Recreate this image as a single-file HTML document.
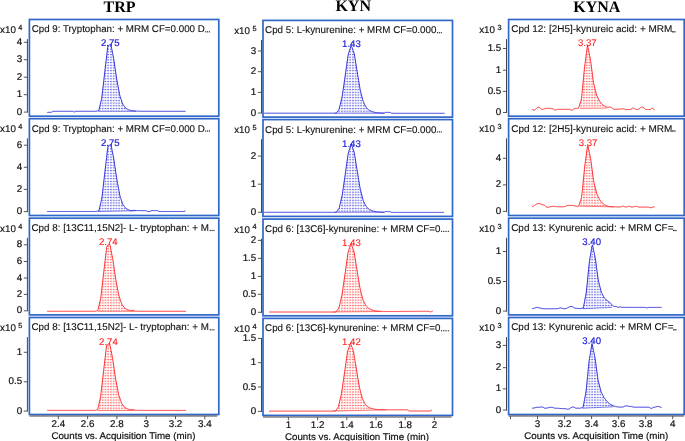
<!DOCTYPE html><html><head><meta charset="utf-8"><style>html,body{margin:0;padding:0;background:#fff;overflow:hidden}svg{display:block;will-change:transform;text-rendering:geometricPrecision}</style></head><body>
<svg width="685" height="441" viewBox="0 0 685 441">
<defs>
<pattern id="hb" patternUnits="userSpaceOnUse" width="2.75" height="2.7"><rect x="0" y="0" width="1.9" height="2.7" fill="#1c1cd8" fill-opacity="0.05"/><rect x="0" y="0" width="1.9" height="1.0" fill="#1c1cd8" fill-opacity="0.62"/></pattern>
<pattern id="hr" patternUnits="userSpaceOnUse" width="2.75" height="2.7"><rect x="0" y="0" width="1.9" height="2.7" fill="#ff1a1a" fill-opacity="0.05"/><rect x="0" y="0" width="1.9" height="1.0" fill="#ff1a1a" fill-opacity="0.62"/></pattern>
</defs>
<rect width="685" height="441" fill="#fff"/>
<g font-family='"Liberation Serif", serif' font-weight="bold" font-size="16" fill="#000">
<text x="103.6" y="11.8">TRP</text><text x="335.4" y="11.1">KYN</text><text x="573.2" y="12.3">KYNA</text></g>
<polygon points="98.50,110.77 99.00,109.86 99.50,107.72 100.00,105.57 100.50,103.43 101.00,101.29 101.50,99.15 102.00,96.12 102.50,91.75 103.00,87.38 103.50,83.01 104.00,78.64 104.50,74.27 105.00,69.94 105.50,65.67 106.00,61.40 106.50,57.13 107.00,52.86 107.50,48.59 108.00,45.90 108.50,45.58 109.00,45.26 109.50,44.94 110.00,44.62 110.50,44.30 111.00,45.12 111.50,47.65 112.00,50.18 112.50,52.71 113.00,55.24 113.50,57.76 114.00,60.64 114.50,64.03 115.00,67.42 115.50,70.81 116.00,74.19 116.50,77.58 117.00,80.68 117.50,83.32 118.00,85.96 118.50,88.60 119.00,91.25 119.50,93.89 120.00,96.06 120.50,97.53 121.00,99.00 121.50,100.47 122.00,101.93 122.50,103.40 123.00,104.54 123.50,105.20 124.00,105.86 124.50,106.52 125.00,107.18 125.50,107.83 126.00,108.34 126.50,108.62 127.00,108.90 127.50,109.17 128.00,109.45 128.50,109.73 129.00,109.95 129.50,110.07 130.00,110.20 130.50,110.32 131.00,110.45 131.50,110.58 132.00,110.68 132.50,110.74 133.00,110.80 133.50,110.86 134.00,110.92 134.50,110.98 135.00,111.03 135.50,111.05 136.00,111.08 136.00,111.30 98.50,111.30" fill="url(#hb)" stroke="none"/>
<line x1="98.50" y1="111.30" x2="136.00" y2="111.30" stroke="#1c1cd8" stroke-width="0.8" stroke-opacity="0.7"/>
<path d="M47.20,112.40 L47.70,112.40 L48.20,112.39 L48.70,112.37 L49.20,112.36 L49.70,112.34 L50.20,112.32 L50.70,112.31 L51.20,112.30 L51.70,112.26 L52.20,111.86 L52.70,111.40 L53.20,111.30 L53.70,111.30 L54.19,111.30 L54.69,111.30 L55.19,111.30 L55.69,111.30 L56.19,111.30 L56.69,111.30 L57.19,111.30 L57.69,111.30 L58.19,111.30 L58.69,111.30 L59.19,111.30 L59.69,111.30 L60.19,111.30 L60.69,111.30 L61.19,111.30 L61.69,111.30 L62.19,111.30 L62.69,111.30 L63.19,111.30 L63.69,111.30 L64.19,111.30 L64.69,111.30 L65.19,111.30 L65.69,111.30 L66.19,111.30 L66.69,111.30 L67.19,111.30 L67.69,111.30 L68.18,111.30 L68.68,111.30 L69.18,111.30 L69.68,111.30 L70.18,111.30 L70.68,111.30 L71.18,111.30 L71.68,111.30 L72.18,111.30 L72.68,111.30 L73.18,111.30 L73.68,111.77 L74.18,112.30 L74.68,111.83 L75.18,111.30 L75.68,111.30 L76.18,111.30 L76.68,111.30 L77.18,111.30 L77.68,111.30 L78.18,111.30 L78.68,111.30 L79.18,111.30 L79.68,111.30 L80.18,111.30 L80.68,111.30 L81.18,111.30 L81.68,111.30 L82.17,111.30 L82.67,111.30 L83.17,111.30 L83.67,111.30 L84.17,111.30 L84.67,111.30 L85.17,111.30 L85.67,111.30 L86.17,111.30 L86.67,111.30 L87.17,111.30 L87.67,111.30 L88.17,111.30 L88.67,111.30 L89.17,111.30 L89.67,111.30 L90.17,111.30 L90.67,111.30 L91.17,111.30 L91.67,111.30 L92.17,111.30 L92.67,111.30 L93.17,111.30 L93.67,111.30 L94.17,111.30 L94.67,111.30 L95.17,111.30 L95.66,111.30 L96.16,111.23 L96.66,111.13 L97.16,111.03 L97.66,110.94 L98.16,110.84 L98.66,110.74 L99.16,109.16 L99.66,107.02 L100.16,104.88 L100.66,102.74 L101.16,100.60 L101.66,98.46 L102.16,94.72 L102.66,90.35 L103.16,85.98 L103.66,81.62 L104.16,77.25 L104.66,72.89 L105.16,68.59 L105.66,64.32 L106.16,60.06 L106.66,55.79 L107.16,51.52 L107.66,47.25 L108.16,45.80 L108.66,45.48 L109.16,45.16 L109.65,44.84 L110.15,44.52 L110.65,44.20 L111.15,45.90 L111.65,48.42 L112.15,50.95 L112.65,53.48 L113.15,56.01 L113.65,58.53 L114.15,61.67 L114.65,65.05 L115.15,68.44 L115.65,71.83 L116.15,75.21 L116.65,78.60 L117.15,81.47 L117.65,84.11 L118.15,86.75 L118.65,89.39 L119.15,92.03 L119.65,94.67 L120.15,96.50 L120.65,97.96 L121.15,99.43 L121.65,100.89 L122.15,102.36 L122.65,103.83 L123.15,104.73 L123.64,105.39 L124.14,106.05 L124.64,106.71 L125.14,107.36 L125.64,108.02 L126.14,108.42 L126.64,108.70 L127.14,108.97 L127.64,109.25 L128.14,109.53 L128.64,109.81 L129.14,109.98 L129.64,110.11 L130.14,110.23 L130.64,110.36 L131.14,110.49 L131.64,110.61 L132.14,110.69 L132.64,110.75 L133.14,110.81 L133.64,110.87 L134.14,110.93 L134.64,110.99 L135.14,111.03 L135.64,111.06 L136.14,111.09 L136.64,111.12 L137.14,111.15 L137.63,111.17 L138.13,111.19 L138.63,111.20 L139.13,111.22 L139.63,111.23 L140.13,111.24 L140.63,111.25 L141.13,111.26 L141.63,111.27 L142.13,111.27 L142.63,111.27 L143.13,111.28 L143.63,111.28 L144.13,111.29 L144.63,111.29 L145.13,111.29 L145.63,111.29 L146.13,111.29 L146.63,111.30 L147.13,111.30 L147.63,111.30 L148.13,111.30 L148.63,111.30 L149.13,111.30 L149.63,111.30 L150.13,111.30 L150.63,111.30 L151.12,111.30 L151.62,111.30 L152.12,111.30 L152.62,111.30 L153.12,111.30 L153.62,111.30 L154.12,111.30 L154.62,111.30 L155.12,111.30 L155.62,111.30 L156.12,111.30 L156.62,111.30 L157.12,111.30 L157.62,111.30 L158.12,111.30 L158.62,111.30 L159.12,111.30 L159.62,111.30 L160.12,111.30 L160.62,111.30 L161.12,111.30 L161.62,111.30 L162.12,111.30 L162.62,111.30 L163.12,111.30 L163.62,111.30 L164.12,111.30 L164.62,111.30 L165.11,111.30 L165.61,111.30 L166.11,111.30 L166.61,111.30 L167.11,111.30 L167.61,111.30 L168.11,111.30 L168.61,111.30 L169.11,111.30 L169.61,111.30 L170.11,111.30 L170.61,111.30 L171.11,111.30 L171.61,111.30 L172.11,111.30 L172.61,111.30 L173.11,111.30 L173.61,111.30 L174.11,111.30 L174.61,111.30 L175.11,111.30 L175.61,111.30 L176.11,111.30 L176.61,111.30 L177.11,111.30 L177.61,111.30 L178.11,111.30 L178.61,111.30 L179.10,111.30 L179.60,111.30 L180.10,111.30 L180.60,111.30 L181.10,111.30 L181.60,111.30 L182.10,111.30 L182.60,111.30 L183.10,111.30 L183.60,111.30 L184.10,111.30 L184.60,111.30 L185.10,111.30 L185.60,111.80" fill="none" stroke="#1c1cd8" stroke-width="0.9" stroke-linejoin="round"/>
<text x="110.3" y="45.8" font-family='"Liberation Sans", sans-serif' font-size="9.6" fill="#1c1cd8" stroke="#1c1cd8" stroke-width="0.2" text-anchor="middle">2.75</text>
<rect x="29.40" y="19.50" width="189.40" height="96.70" fill="none" stroke="#3067c9" stroke-width="1.7"/>
<text x="31.70" y="32.40" font-family='"Liberation Sans", sans-serif' font-size="9.8" fill="#111" stroke="#111" stroke-width="0.12" textLength="173.08" lengthAdjust="spacingAndGlyphs">Cpd 9: Tryptophan: + MRM CF=0.000 D</text>
<rect x="205.15" y="31.20" width="1.1" height="1.2" fill="#222"/>
<rect x="207.00" y="31.20" width="1.1" height="1.2" fill="#222"/>
<rect x="208.85" y="31.20" width="1.1" height="1.2" fill="#222"/>
<line x1="27.4" y1="39.10" x2="27.4" y2="112.60" stroke="#454545" stroke-width="1"/>
<line x1="23.80" y1="112.10" x2="27.4" y2="112.10" stroke="#454545" stroke-width="0.9"/>
<text x="22.20" y="114.60" font-family='"Liberation Sans", sans-serif' font-size="9.8" fill="#111" stroke="#111" stroke-width="0.2" text-anchor="end">0</text>
<line x1="23.80" y1="94.70" x2="27.4" y2="94.70" stroke="#454545" stroke-width="0.9"/>
<text x="22.20" y="97.20" font-family='"Liberation Sans", sans-serif' font-size="9.8" fill="#111" stroke="#111" stroke-width="0.2" text-anchor="end">1</text>
<line x1="23.80" y1="77.20" x2="27.4" y2="77.20" stroke="#454545" stroke-width="0.9"/>
<text x="22.20" y="79.70" font-family='"Liberation Sans", sans-serif' font-size="9.8" fill="#111" stroke="#111" stroke-width="0.2" text-anchor="end">2</text>
<line x1="23.80" y1="59.70" x2="27.4" y2="59.70" stroke="#454545" stroke-width="0.9"/>
<text x="22.20" y="62.20" font-family='"Liberation Sans", sans-serif' font-size="9.8" fill="#111" stroke="#111" stroke-width="0.2" text-anchor="end">3</text>
<line x1="23.80" y1="42.30" x2="27.4" y2="42.30" stroke="#454545" stroke-width="0.9"/>
<text x="22.20" y="44.80" font-family='"Liberation Sans", sans-serif' font-size="9.8" fill="#111" stroke="#111" stroke-width="0.2" text-anchor="end">4</text>
<text x="0.10" y="32.90" font-family='"Liberation Sans", sans-serif' font-size="9.8" fill="#111" stroke="#111" stroke-width="0.15">x10</text>
<text x="18.30" y="29.80" font-family='"Liberation Sans", sans-serif' font-size="7.4" fill="#111" stroke="#111" stroke-width="0.2">4</text>
<polygon points="98.30,211.03 98.80,210.93 99.31,209.18 99.81,207.03 100.31,204.87 100.81,202.72 101.32,200.57 101.82,198.41 102.32,194.38 102.82,189.99 103.33,185.60 103.83,181.21 104.33,176.81 104.83,172.42 105.34,168.12 105.84,163.82 106.34,159.53 106.85,155.23 107.35,150.94 107.85,146.65 108.35,145.93 108.86,145.61 109.36,145.29 109.86,144.97 110.36,144.65 110.87,144.33 111.37,146.68 111.87,149.22 112.37,151.77 112.88,154.31 113.38,156.85 113.88,159.39 114.39,162.77 114.89,166.18 115.39,169.59 115.89,172.99 116.40,176.40 116.90,179.81 117.40,182.47 117.90,185.13 118.41,187.78 118.91,190.44 119.41,193.10 119.91,195.72 120.42,197.20 120.92,198.67 121.42,200.15 121.93,201.62 122.43,203.10 122.93,204.52 123.43,205.18 123.94,205.84 124.44,206.50 124.94,207.17 125.44,207.83 125.95,208.45 126.45,208.73 126.95,209.01 127.45,209.29 127.96,209.57 128.46,209.85 128.96,210.11 129.47,210.24 129.97,210.37 130.47,210.49 130.97,210.62 131.48,210.74 131.98,210.86 132.48,210.81 132.98,210.59 133.49,210.37 133.99,210.30 134.49,210.37 134.99,210.42 135.50,210.45 136.00,210.48 136.00,210.70 98.30,211.50" fill="url(#hb)" stroke="none"/>
<line x1="98.30" y1="211.50" x2="136.00" y2="210.70" stroke="#1c1cd8" stroke-width="0.8" stroke-opacity="0.7"/>
<path d="M47.20,211.50 L47.70,211.50 L48.20,211.50 L48.70,211.50 L49.20,211.50 L49.70,211.50 L50.20,211.50 L50.69,211.50 L51.19,211.50 L51.69,211.50 L52.19,211.50 L52.69,211.50 L53.19,211.50 L53.69,211.50 L54.19,211.50 L54.69,211.50 L55.19,211.50 L55.69,211.50 L56.19,211.50 L56.69,211.50 L57.19,211.50 L57.68,211.50 L58.18,211.50 L58.68,211.50 L59.18,211.50 L59.68,211.50 L60.18,211.50 L60.68,211.50 L61.18,211.50 L61.68,211.50 L62.18,211.50 L62.68,211.50 L63.18,211.50 L63.68,211.50 L64.18,211.50 L64.67,211.50 L65.17,211.50 L65.67,211.50 L66.17,211.50 L66.67,211.50 L67.17,211.50 L67.67,211.50 L68.17,211.50 L68.67,211.50 L69.17,211.50 L69.67,211.50 L70.17,211.50 L70.67,211.50 L71.17,211.50 L71.66,211.50 L72.16,211.50 L72.66,211.50 L73.16,211.50 L73.66,211.50 L74.16,211.50 L74.66,211.50 L75.16,211.50 L75.66,211.50 L76.16,211.50 L76.66,211.50 L77.16,211.50 L77.66,211.50 L78.16,211.50 L78.65,211.50 L79.15,211.50 L79.65,211.50 L80.15,211.50 L80.65,211.50 L81.15,211.50 L81.65,211.50 L82.15,211.50 L82.65,211.50 L83.15,211.50 L83.65,211.50 L84.15,211.50 L84.65,211.50 L85.15,211.50 L85.64,211.50 L86.14,211.50 L86.64,211.50 L87.14,211.50 L87.64,211.50 L88.14,211.50 L88.64,211.50 L89.14,211.50 L89.64,211.50 L90.14,211.50 L90.64,211.50 L91.14,211.50 L91.64,211.50 L92.14,211.50 L92.63,211.50 L93.13,211.50 L93.63,211.50 L94.13,211.50 L94.63,211.50 L95.13,211.50 L95.63,211.50 L96.13,211.46 L96.63,211.36 L97.13,211.26 L97.63,211.16 L98.13,211.07 L98.63,210.97 L99.12,209.95 L99.62,207.81 L100.12,205.67 L100.62,203.54 L101.12,201.40 L101.62,199.26 L102.12,196.14 L102.62,191.77 L103.12,187.41 L103.62,183.05 L104.12,178.69 L104.62,174.32 L105.12,170.00 L105.62,165.74 L106.11,161.47 L106.61,157.21 L107.11,152.94 L107.61,148.68 L108.11,146.09 L108.61,145.77 L109.11,145.45 L109.61,145.13 L110.11,144.81 L110.61,144.49 L111.11,145.36 L111.61,147.88 L112.11,150.41 L112.61,152.93 L113.10,155.46 L113.60,157.98 L114.10,160.86 L114.60,164.24 L115.10,167.63 L115.60,171.01 L116.10,174.40 L116.60,177.78 L117.10,180.87 L117.60,183.51 L118.10,186.15 L118.60,188.79 L119.10,191.43 L119.60,194.07 L120.09,196.25 L120.59,197.71 L121.09,199.18 L121.59,200.64 L122.09,202.11 L122.59,203.57 L123.09,204.73 L123.59,205.39 L124.09,206.04 L124.59,206.70 L125.09,207.36 L125.59,208.02 L126.09,208.53 L126.59,208.81 L127.08,209.09 L127.58,209.36 L128.08,209.64 L128.58,209.92 L129.08,210.14 L129.58,210.27 L130.08,210.39 L130.58,210.52 L131.08,210.64 L131.58,210.77 L132.08,210.87 L132.58,210.78 L133.08,210.55 L133.58,210.34 L134.07,210.31 L134.57,210.37 L135.07,210.42 L135.57,210.45 L136.07,210.48 L136.57,210.51 L137.07,210.54 L137.57,210.57 L138.07,210.59 L138.57,210.60 L139.07,210.61 L139.57,210.62 L140.07,210.64 L140.56,210.65 L141.06,210.66 L141.56,210.66 L142.06,210.67 L142.56,210.67 L143.06,210.68 L143.56,210.68 L144.06,210.69 L144.56,210.69 L145.06,210.69 L145.56,210.69 L146.06,210.69 L146.56,210.87 L147.06,211.24 L147.55,211.58 L148.05,211.70 L148.55,211.63 L149.05,211.48 L149.55,211.35 L150.05,211.30 L150.55,211.18 L151.05,210.92 L151.55,210.68 L152.05,210.60 L152.55,210.60 L153.05,210.60 L153.55,210.60 L154.05,210.60 L154.54,210.60 L155.04,210.60 L155.54,210.60 L156.04,210.60 L156.54,210.60 L157.04,210.60 L157.54,210.60 L158.04,210.86 L158.54,211.31 L159.04,211.50 L159.54,211.50 L160.04,211.50 L160.54,211.50 L161.04,211.50 L161.53,211.50 L162.03,211.50 L162.53,211.50 L163.03,211.50 L163.53,211.50 L164.03,211.50 L164.53,211.50 L165.03,211.50 L165.53,211.50 L166.03,211.50 L166.53,211.50 L167.03,211.50 L167.53,211.50 L168.03,211.50 L168.52,211.50 L169.02,211.50 L169.52,211.50 L170.02,211.50 L170.52,211.50 L171.02,211.50 L171.52,211.50 L172.02,211.50 L172.52,211.50 L173.02,211.50 L173.52,211.50 L174.02,211.50 L174.52,211.50 L175.02,211.50 L175.51,211.50 L176.01,211.50 L176.51,211.50 L177.01,211.50 L177.51,211.50 L178.01,211.50 L178.51,211.50 L179.01,211.50 L179.51,211.50 L180.01,211.50 L180.51,211.50 L181.01,211.50 L181.51,211.50 L182.01,211.50 L182.50,211.50 L183.00,211.50 L183.50,211.50 L184.00,211.50 L184.50,211.35 L185.00,211.05 L185.50,210.90" fill="none" stroke="#1c1cd8" stroke-width="0.9" stroke-linejoin="round"/>
<text x="110.3" y="145.8" font-family='"Liberation Sans", sans-serif' font-size="9.6" fill="#1c1cd8" stroke="#1c1cd8" stroke-width="0.2" text-anchor="middle">2.75</text>
<rect x="29.40" y="118.70" width="189.40" height="96.80" fill="none" stroke="#3067c9" stroke-width="1.7"/>
<text x="31.70" y="131.60" font-family='"Liberation Sans", sans-serif' font-size="9.8" fill="#111" stroke="#111" stroke-width="0.12" textLength="173.08" lengthAdjust="spacingAndGlyphs">Cpd 9: Tryptophan: + MRM CF=0.000 D</text>
<rect x="205.15" y="130.40" width="1.1" height="1.2" fill="#222"/>
<rect x="207.00" y="130.40" width="1.1" height="1.2" fill="#222"/>
<rect x="208.85" y="130.40" width="1.1" height="1.2" fill="#222"/>
<line x1="27.4" y1="138.30" x2="27.4" y2="212.10" stroke="#454545" stroke-width="1"/>
<line x1="23.80" y1="211.60" x2="27.4" y2="211.60" stroke="#454545" stroke-width="0.9"/>
<text x="22.20" y="214.10" font-family='"Liberation Sans", sans-serif' font-size="9.8" fill="#111" stroke="#111" stroke-width="0.2" text-anchor="end">0</text>
<line x1="23.80" y1="189.40" x2="27.4" y2="189.40" stroke="#454545" stroke-width="0.9"/>
<text x="22.20" y="191.90" font-family='"Liberation Sans", sans-serif' font-size="9.8" fill="#111" stroke="#111" stroke-width="0.2" text-anchor="end">2</text>
<line x1="23.80" y1="167.30" x2="27.4" y2="167.30" stroke="#454545" stroke-width="0.9"/>
<text x="22.20" y="169.80" font-family='"Liberation Sans", sans-serif' font-size="9.8" fill="#111" stroke="#111" stroke-width="0.2" text-anchor="end">4</text>
<line x1="23.80" y1="145.20" x2="27.4" y2="145.20" stroke="#454545" stroke-width="0.9"/>
<text x="22.20" y="147.70" font-family='"Liberation Sans", sans-serif' font-size="9.8" fill="#111" stroke="#111" stroke-width="0.2" text-anchor="end">6</text>
<text x="0.10" y="132.10" font-family='"Liberation Sans", sans-serif' font-size="9.8" fill="#111" stroke="#111" stroke-width="0.15">x10</text>
<text x="18.30" y="129.00" font-family='"Liberation Sans", sans-serif' font-size="7.4" fill="#111" stroke="#111" stroke-width="0.2">4</text>
<polygon points="98.00,309.86 98.50,307.72 99.00,305.57 99.50,303.43 100.00,301.29 100.50,299.15 101.00,296.12 101.50,291.75 102.00,287.38 102.50,283.01 103.00,278.64 103.50,274.27 104.00,269.94 104.50,265.67 105.00,261.40 105.50,257.13 106.00,252.86 106.50,248.59 107.00,245.90 107.50,245.58 108.00,245.26 108.50,244.94 109.00,244.62 109.50,244.30 110.00,245.12 110.50,247.65 111.00,250.18 111.50,252.71 112.00,255.24 112.50,257.76 113.00,260.64 113.50,264.03 114.00,267.42 114.50,270.81 115.00,274.19 115.50,277.58 116.00,280.68 116.50,283.32 117.00,285.96 117.50,288.60 118.00,291.25 118.50,293.89 119.00,296.06 119.50,297.53 120.00,299.00 120.50,300.47 121.00,301.93 121.50,303.40 122.00,304.54 122.50,305.20 123.00,305.86 123.50,306.52 124.00,307.18 124.50,307.83 125.00,308.34 125.50,308.62 126.00,308.90 126.50,309.17 127.00,309.45 127.50,309.73 128.00,309.95 128.50,310.07 129.00,310.20 129.50,310.32 130.00,310.45 130.50,310.58 131.00,310.68 131.50,310.74 132.00,310.62 132.50,310.33 133.00,310.22 133.50,310.43 134.00,310.81 134.50,311.05 134.50,311.29 98.00,311.30" fill="url(#hr)" stroke="none"/>
<line x1="98.00" y1="311.30" x2="134.50" y2="311.29" stroke="#ff1a1a" stroke-width="0.8" stroke-opacity="0.7"/>
<path d="M47.20,311.30 L47.70,311.30 L48.20,311.30 L48.70,311.30 L49.20,311.30 L49.70,311.30 L50.20,311.30 L50.69,311.30 L51.19,311.30 L51.69,311.30 L52.19,311.30 L52.69,311.30 L53.19,311.30 L53.69,311.30 L54.19,311.30 L54.69,311.30 L55.19,311.30 L55.69,311.30 L56.19,311.30 L56.69,311.30 L57.19,311.30 L57.68,311.30 L58.18,311.30 L58.68,311.30 L59.18,311.30 L59.68,311.30 L60.18,311.30 L60.68,311.30 L61.18,311.30 L61.68,311.30 L62.18,311.30 L62.68,311.30 L63.18,311.30 L63.68,311.30 L64.18,311.30 L64.67,311.30 L65.17,311.30 L65.67,311.30 L66.17,311.30 L66.67,311.30 L67.17,311.30 L67.67,311.30 L68.17,311.30 L68.67,311.30 L69.17,311.30 L69.67,311.30 L70.17,311.30 L70.67,311.30 L71.17,311.30 L71.66,311.30 L72.16,311.30 L72.66,311.30 L73.16,311.30 L73.66,311.30 L74.16,311.30 L74.66,311.30 L75.16,311.30 L75.66,311.30 L76.16,311.30 L76.66,311.30 L77.16,311.30 L77.66,311.30 L78.16,311.30 L78.65,311.30 L79.15,311.30 L79.65,311.30 L80.15,311.30 L80.65,311.30 L81.15,311.30 L81.65,311.30 L82.15,311.30 L82.65,311.30 L83.15,311.30 L83.65,311.30 L84.15,311.30 L84.65,311.30 L85.15,311.30 L85.64,311.30 L86.14,311.30 L86.64,311.30 L87.14,311.30 L87.64,311.30 L88.14,311.30 L88.64,311.30 L89.14,311.30 L89.64,311.30 L90.14,311.30 L90.64,311.30 L91.14,311.30 L91.64,311.30 L92.14,311.30 L92.63,311.30 L93.13,311.30 L93.63,311.30 L94.13,311.30 L94.63,311.30 L95.13,311.24 L95.63,311.14 L96.13,311.04 L96.63,310.94 L97.13,310.85 L97.63,310.75 L98.13,309.32 L98.63,307.18 L99.13,305.04 L99.62,302.90 L100.12,300.76 L100.62,298.62 L101.12,295.05 L101.62,290.68 L102.12,286.32 L102.62,281.96 L103.12,277.60 L103.62,273.23 L104.12,268.93 L104.62,264.67 L105.12,260.40 L105.62,256.14 L106.12,251.87 L106.61,247.61 L107.11,245.82 L107.61,245.50 L108.11,245.19 L108.61,244.87 L109.11,244.55 L109.61,244.23 L110.11,245.67 L110.61,248.20 L111.11,250.72 L111.61,253.25 L112.11,255.77 L112.61,258.30 L113.11,261.35 L113.60,264.73 L114.10,268.12 L114.60,271.50 L115.10,274.89 L115.60,278.27 L116.10,281.21 L116.60,283.85 L117.10,286.49 L117.60,289.13 L118.10,291.77 L118.60,294.40 L119.10,296.35 L119.60,297.81 L120.09,299.28 L120.59,300.74 L121.09,302.21 L121.59,303.67 L122.09,304.66 L122.59,305.32 L123.09,305.98 L123.59,306.64 L124.09,307.29 L124.59,307.95 L125.09,308.39 L125.59,308.67 L126.09,308.94 L126.59,309.22 L127.08,309.50 L127.58,309.78 L128.08,309.97 L128.58,310.09 L129.08,310.22 L129.58,310.34 L130.08,310.47 L130.58,310.60 L131.08,310.69 L131.58,310.74 L132.08,310.58 L132.58,310.30 L133.08,310.23 L133.58,310.49 L134.07,310.86 L134.57,311.06 L135.07,311.09 L135.57,311.11 L136.07,311.14 L136.57,311.17 L137.07,311.19 L137.57,311.20 L138.07,311.22 L138.57,311.23 L139.07,311.24 L139.57,311.25 L140.07,311.26 L140.57,311.26 L141.06,311.27 L141.56,311.27 L142.06,311.28 L142.56,311.28 L143.06,311.29 L143.56,311.29 L144.06,311.29 L144.56,311.29 L145.06,311.29 L145.56,311.29 L146.06,311.30 L146.56,311.30 L147.06,311.30 L147.56,311.30 L148.05,311.30 L148.55,311.30 L149.05,311.30 L149.55,311.30 L150.05,311.30 L150.55,311.30 L151.05,311.30 L151.55,311.30 L152.05,311.30 L152.55,311.30 L153.05,311.30 L153.55,311.30 L154.05,311.30 L154.55,311.30 L155.04,311.30 L155.54,311.30 L156.04,311.30 L156.54,311.30 L157.04,311.30 L157.54,311.30 L158.04,311.30 L158.54,311.30 L159.04,311.30 L159.54,311.30 L160.04,311.30 L160.54,311.30 L161.04,311.30 L161.54,311.30 L162.03,311.30 L162.53,311.30 L163.03,311.30 L163.53,311.30 L164.03,311.30 L164.53,311.30 L165.03,311.30 L165.53,311.30 L166.03,311.30 L166.53,311.30 L167.03,311.30 L167.53,311.30 L168.03,311.30 L168.53,311.30 L169.02,311.30 L169.52,311.30 L170.02,311.30 L170.52,311.30 L171.02,311.30 L171.52,311.30 L172.02,311.30 L172.52,311.30 L173.02,311.30 L173.52,311.30 L174.02,311.30 L174.52,311.30 L175.02,311.30 L175.52,311.30 L176.01,311.30 L176.51,311.30 L177.01,311.30 L177.51,311.30 L178.01,311.30 L178.51,311.30 L179.01,311.30 L179.51,311.30 L180.01,311.30 L180.51,311.30 L181.01,311.30 L181.51,311.30 L182.01,311.30 L182.51,311.30 L183.00,311.30 L183.50,311.30 L184.00,311.30 L184.50,311.30 L185.00,311.30 L185.50,311.30 L186.00,311.30" fill="none" stroke="#ff1a1a" stroke-width="0.9" stroke-linejoin="round"/>
<text x="108.3" y="244.8" font-family='"Liberation Sans", sans-serif' font-size="9.6" fill="#ff1a1a" stroke="#ff1a1a" stroke-width="0.08" text-anchor="middle">2.74</text>
<rect x="29.40" y="218.20" width="189.40" height="96.70" fill="none" stroke="#3067c9" stroke-width="1.7"/>
<text x="31.50" y="231.10" font-family='"Liberation Sans", sans-serif' font-size="9.8" fill="#111" stroke="#111" stroke-width="0.12" textLength="177.31" lengthAdjust="spacingAndGlyphs">Cpd 8: [13C11,15N2]- L- tryptophan: + M</text>
<rect x="209.75" y="229.90" width="1.1" height="1.2" fill="#222"/>
<rect x="211.55" y="229.90" width="1.1" height="1.2" fill="#222"/>
<rect x="213.35" y="229.90" width="1.1" height="1.2" fill="#222"/>
<line x1="27.4" y1="237.80" x2="27.4" y2="311.30" stroke="#454545" stroke-width="1"/>
<line x1="23.80" y1="310.80" x2="27.4" y2="310.80" stroke="#454545" stroke-width="0.9"/>
<text x="22.20" y="313.30" font-family='"Liberation Sans", sans-serif' font-size="9.8" fill="#111" stroke="#111" stroke-width="0.2" text-anchor="end">0</text>
<line x1="23.80" y1="294.40" x2="27.4" y2="294.40" stroke="#454545" stroke-width="0.9"/>
<text x="22.20" y="296.90" font-family='"Liberation Sans", sans-serif' font-size="9.8" fill="#111" stroke="#111" stroke-width="0.2" text-anchor="end">2</text>
<line x1="23.80" y1="278.00" x2="27.4" y2="278.00" stroke="#454545" stroke-width="0.9"/>
<text x="22.20" y="280.50" font-family='"Liberation Sans", sans-serif' font-size="9.8" fill="#111" stroke="#111" stroke-width="0.2" text-anchor="end">4</text>
<line x1="23.80" y1="261.50" x2="27.4" y2="261.50" stroke="#454545" stroke-width="0.9"/>
<text x="22.20" y="264.00" font-family='"Liberation Sans", sans-serif' font-size="9.8" fill="#111" stroke="#111" stroke-width="0.2" text-anchor="end">6</text>
<line x1="23.80" y1="244.80" x2="27.4" y2="244.80" stroke="#454545" stroke-width="0.9"/>
<text x="22.20" y="247.30" font-family='"Liberation Sans", sans-serif' font-size="9.8" fill="#111" stroke="#111" stroke-width="0.2" text-anchor="end">8</text>
<text x="0.10" y="231.60" font-family='"Liberation Sans", sans-serif' font-size="9.8" fill="#111" stroke="#111" stroke-width="0.15">x10</text>
<text x="18.30" y="228.50" font-family='"Liberation Sans", sans-serif' font-size="7.4" fill="#111" stroke="#111" stroke-width="0.2">4</text>
<polygon points="97.80,408.96 98.30,406.81 98.81,404.66 99.31,402.51 99.81,400.36 100.31,398.21 100.82,395.09 101.32,390.71 101.82,386.32 102.32,381.94 102.83,377.55 103.33,373.16 103.83,368.82 104.34,364.53 104.84,360.24 105.34,355.96 105.84,351.67 106.35,347.38 106.85,345.06 107.35,344.74 107.85,344.42 108.36,344.10 108.86,343.78 109.36,343.46 109.87,344.65 110.37,347.19 110.87,349.73 111.37,352.26 111.88,354.80 112.38,357.34 112.88,360.37 113.38,363.77 113.89,367.17 114.39,370.58 114.89,373.98 115.40,377.38 115.90,380.34 116.40,382.99 116.90,385.65 117.41,388.30 117.91,390.96 118.41,393.61 118.92,395.52 119.42,397.00 119.92,398.47 120.42,399.94 120.93,401.42 121.43,402.89 121.93,403.83 122.43,404.49 122.94,405.15 123.44,405.81 123.94,406.47 124.45,407.13 124.95,407.53 125.45,407.80 125.95,408.08 126.46,408.36 126.96,408.64 127.46,408.92 127.96,409.09 128.47,409.22 128.97,409.34 129.47,409.47 129.98,409.60 130.48,409.72 130.98,409.80 131.48,409.86 131.99,409.78 132.49,409.54 132.99,409.44 133.49,409.63 134.00,409.95 134.50,410.16 134.50,410.39 97.80,410.40" fill="url(#hr)" stroke="none"/>
<line x1="97.80" y1="410.40" x2="134.50" y2="410.39" stroke="#ff1a1a" stroke-width="0.8" stroke-opacity="0.7"/>
<path d="M47.20,410.40 L47.70,410.40 L48.20,410.40 L48.70,410.40 L49.20,410.40 L49.70,410.40 L50.20,410.40 L50.69,410.40 L51.19,410.40 L51.69,410.40 L52.19,410.40 L52.69,410.40 L53.19,410.40 L53.69,410.40 L54.19,410.40 L54.69,410.40 L55.19,410.40 L55.69,410.40 L56.19,410.40 L56.69,410.40 L57.19,410.40 L57.68,410.40 L58.18,410.40 L58.68,410.40 L59.18,410.40 L59.68,410.40 L60.18,410.40 L60.68,410.40 L61.18,410.40 L61.68,410.40 L62.18,410.40 L62.68,410.40 L63.18,410.40 L63.68,410.40 L64.18,410.40 L64.67,410.40 L65.17,410.40 L65.67,410.40 L66.17,410.40 L66.67,410.40 L67.17,410.40 L67.67,410.40 L68.17,410.40 L68.67,410.40 L69.17,410.40 L69.67,410.40 L70.17,410.40 L70.67,410.40 L71.17,410.40 L71.66,410.40 L72.16,410.40 L72.66,410.40 L73.16,410.40 L73.66,410.40 L74.16,410.40 L74.66,410.40 L75.16,410.40 L75.66,410.40 L76.16,410.40 L76.66,410.40 L77.16,410.40 L77.66,410.40 L78.16,410.40 L78.65,410.40 L79.15,410.40 L79.65,410.40 L80.15,410.40 L80.65,410.40 L81.15,410.40 L81.65,410.40 L82.15,410.40 L82.65,410.40 L83.15,410.40 L83.65,410.40 L84.15,410.40 L84.65,410.40 L85.15,410.40 L85.64,410.40 L86.14,410.40 L86.64,410.40 L87.14,410.40 L87.64,410.40 L88.14,410.40 L88.64,410.40 L89.14,410.40 L89.64,410.40 L90.14,410.40 L90.64,410.40 L91.14,410.40 L91.64,410.40 L92.14,410.40 L92.63,410.40 L93.13,410.40 L93.63,410.40 L94.13,410.40 L94.63,410.39 L95.13,410.30 L95.63,410.20 L96.13,410.10 L96.63,410.01 L97.13,409.91 L97.63,409.70 L98.13,407.56 L98.63,405.43 L99.13,403.29 L99.62,401.16 L100.12,399.02 L100.62,396.78 L101.12,392.43 L101.62,388.07 L102.12,383.71 L102.62,379.36 L103.12,375.00 L103.62,370.65 L104.12,366.39 L104.62,362.13 L105.12,357.87 L105.62,353.61 L106.12,349.35 L106.61,345.21 L107.11,344.89 L107.61,344.57 L108.11,344.25 L108.61,343.94 L109.11,343.62 L109.61,343.36 L110.11,345.88 L110.61,348.40 L111.11,350.92 L111.61,353.44 L112.11,355.96 L112.61,358.50 L113.11,361.88 L113.60,365.25 L114.10,368.63 L114.60,372.01 L115.10,375.39 L115.60,378.77 L116.10,381.41 L116.60,384.04 L117.10,386.68 L117.60,389.31 L118.10,391.95 L118.60,394.58 L119.10,396.05 L119.60,397.52 L120.09,398.98 L120.59,400.44 L121.09,401.91 L121.59,403.37 L122.09,404.04 L122.59,404.69 L123.09,405.35 L123.59,406.01 L124.09,406.66 L124.59,407.32 L125.09,407.60 L125.59,407.88 L126.09,408.16 L126.59,408.44 L127.08,408.71 L127.58,408.99 L128.08,409.12 L128.58,409.25 L129.08,409.37 L129.58,409.50 L130.08,409.62 L130.58,409.75 L131.08,409.81 L131.58,409.87 L132.08,409.74 L132.58,409.50 L133.08,409.45 L133.58,409.68 L134.07,410.00 L134.57,410.17 L135.07,410.20 L135.57,410.23 L136.07,410.25 L136.57,410.28 L137.07,410.30 L137.57,410.31 L138.07,410.32 L138.57,410.33 L139.07,410.34 L139.57,410.36 L140.07,410.36 L140.57,410.37 L141.06,410.37 L141.56,410.38 L142.06,410.38 L142.56,410.39 L143.06,410.39 L143.56,410.39 L144.06,410.39 L144.56,410.39 L145.06,410.39 L145.56,410.40 L146.06,410.40 L146.56,410.40 L147.06,410.40 L147.56,410.40 L148.05,410.40 L148.55,410.40 L149.05,410.40 L149.55,410.40 L150.05,410.40 L150.55,410.40 L151.05,410.40 L151.55,410.40 L152.05,410.40 L152.55,410.40 L153.05,410.40 L153.55,410.40 L154.05,410.40 L154.55,410.40 L155.04,410.40 L155.54,410.40 L156.04,410.40 L156.54,410.40 L157.04,410.40 L157.54,410.40 L158.04,410.40 L158.54,410.40 L159.04,410.40 L159.54,410.40 L160.04,410.40 L160.54,410.40 L161.04,410.40 L161.54,410.40 L162.03,410.40 L162.53,410.40 L163.03,410.40 L163.53,410.40 L164.03,410.40 L164.53,410.40 L165.03,410.40 L165.53,410.40 L166.03,410.40 L166.53,410.40 L167.03,410.40 L167.53,410.40 L168.03,410.40 L168.53,410.40 L169.02,410.40 L169.52,410.40 L170.02,410.40 L170.52,410.40 L171.02,410.40 L171.52,410.40 L172.02,410.40 L172.52,410.40 L173.02,410.40 L173.52,410.40 L174.02,410.40 L174.52,410.40 L175.02,410.40 L175.52,410.40 L176.01,410.40 L176.51,410.40 L177.01,410.40 L177.51,410.40 L178.01,410.40 L178.51,410.40 L179.01,410.40 L179.51,410.40 L180.01,410.40 L180.51,410.40 L181.01,410.40 L181.51,410.40 L182.01,410.40 L182.51,410.40 L183.00,410.40 L183.50,410.40 L184.00,410.40 L184.50,410.40 L185.00,410.40 L185.50,410.40 L186.00,410.40" fill="none" stroke="#ff1a1a" stroke-width="0.9" stroke-linejoin="round"/>
<text x="108.4" y="344.9" font-family='"Liberation Sans", sans-serif' font-size="9.6" fill="#ff1a1a" stroke="#ff1a1a" stroke-width="0.08" text-anchor="middle">2.74</text>
<rect x="29.40" y="317.50" width="189.40" height="97.00" fill="none" stroke="#3067c9" stroke-width="1.7"/>
<text x="31.50" y="330.40" font-family='"Liberation Sans", sans-serif' font-size="9.8" fill="#111" stroke="#111" stroke-width="0.12" textLength="177.31" lengthAdjust="spacingAndGlyphs">Cpd 8: [13C11,15N2]- L- tryptophan: + M</text>
<rect x="209.75" y="329.20" width="1.1" height="1.2" fill="#222"/>
<rect x="211.55" y="329.20" width="1.1" height="1.2" fill="#222"/>
<rect x="213.35" y="329.20" width="1.1" height="1.2" fill="#222"/>
<line x1="27.4" y1="337.10" x2="27.4" y2="411.60" stroke="#454545" stroke-width="1"/>
<line x1="23.80" y1="411.10" x2="27.4" y2="411.10" stroke="#454545" stroke-width="0.9"/>
<text x="22.20" y="413.60" font-family='"Liberation Sans", sans-serif' font-size="9.8" fill="#111" stroke="#111" stroke-width="0.2" text-anchor="end">0</text>
<line x1="23.80" y1="381.80" x2="27.4" y2="381.80" stroke="#454545" stroke-width="0.9"/>
<text x="22.20" y="384.30" font-family='"Liberation Sans", sans-serif' font-size="9.8" fill="#111" stroke="#111" stroke-width="0.2" text-anchor="end">0.5</text>
<line x1="23.80" y1="352.30" x2="27.4" y2="352.30" stroke="#454545" stroke-width="0.9"/>
<text x="22.20" y="354.80" font-family='"Liberation Sans", sans-serif' font-size="9.8" fill="#111" stroke="#111" stroke-width="0.2" text-anchor="end">1</text>
<text x="0.10" y="330.90" font-family='"Liberation Sans", sans-serif' font-size="9.8" fill="#111" stroke="#111" stroke-width="0.15">x10</text>
<text x="18.30" y="327.80" font-family='"Liberation Sans", sans-serif' font-size="7.4" fill="#111" stroke="#111" stroke-width="0.2">5</text>
<polygon points="334.50,113.20 335.00,113.20 335.50,113.20 335.99,113.20 336.49,112.79 336.99,112.09 337.49,111.39 337.99,110.69 338.48,109.99 338.98,109.29 339.48,107.79 339.98,105.67 340.48,103.56 340.97,101.44 341.47,99.32 341.97,97.20 342.47,94.39 342.97,90.98 343.46,87.58 343.96,84.17 344.46,80.76 344.96,77.36 345.46,73.90 345.95,70.38 346.45,66.87 346.95,63.36 347.45,59.85 347.95,56.34 348.44,53.79 348.94,52.26 349.44,50.72 349.94,49.19 350.44,47.65 350.93,46.12 351.43,45.93 351.93,47.27 352.43,48.62 352.93,49.96 353.42,51.31 353.92,52.65 354.42,54.76 354.92,57.83 355.42,60.90 355.91,63.97 356.41,67.04 356.91,70.11 357.41,73.15 357.91,76.13 358.40,79.12 358.90,82.11 359.40,85.10 359.90,88.09 360.40,90.66 360.89,92.60 361.39,94.54 361.89,96.47 362.39,98.41 362.89,100.34 363.38,101.93 363.88,102.91 364.38,103.89 364.88,104.87 365.38,105.85 365.87,106.83 366.37,107.63 366.87,108.09 367.37,108.56 367.87,109.02 368.36,109.48 368.86,109.94 369.36,110.33 369.86,110.57 370.36,110.80 370.85,111.03 371.35,111.27 371.85,111.50 372.35,111.70 372.85,111.83 373.34,111.96 373.84,112.09 374.34,112.21 374.84,112.34 375.34,112.45 375.83,112.52 376.33,112.59 376.83,112.66 377.33,112.73 377.83,112.79 378.32,112.85 378.82,112.89 379.32,112.92 379.82,112.96 380.32,112.99 380.81,113.02 381.31,113.05 381.81,113.07 382.31,113.08 382.81,113.10 383.30,113.11 383.80,113.13 384.30,113.07 384.30,113.12 334.50,113.20" fill="url(#hb)" stroke="none"/>
<line x1="334.50" y1="113.20" x2="384.30" y2="113.12" stroke="#1c1cd8" stroke-width="0.8" stroke-opacity="0.7"/>
<path d="M264.20,113.20 L264.70,113.20 L265.20,113.20 L265.70,113.20 L266.20,113.20 L266.70,113.20 L267.20,113.20 L267.70,113.20 L268.20,113.20 L268.70,113.20 L269.20,113.20 L269.70,113.20 L270.20,113.20 L270.70,113.20 L271.20,113.20 L271.70,113.20 L272.20,113.20 L272.70,113.20 L273.20,113.20 L273.69,113.20 L274.19,113.20 L274.69,113.20 L275.19,113.20 L275.69,113.20 L276.19,113.20 L276.69,113.20 L277.19,113.20 L277.69,113.20 L278.19,113.20 L278.69,113.20 L279.19,113.20 L279.69,113.20 L280.19,113.20 L280.69,113.20 L281.19,113.20 L281.69,113.20 L282.19,113.20 L282.69,113.20 L283.19,113.20 L283.69,113.20 L284.19,113.20 L284.69,113.20 L285.19,113.20 L285.69,113.20 L286.19,113.20 L286.69,113.20 L287.19,113.20 L287.69,113.20 L288.19,113.20 L288.69,113.20 L289.19,113.20 L289.69,113.20 L290.19,113.20 L290.69,113.20 L291.19,113.20 L291.68,113.20 L292.18,113.20 L292.68,113.20 L293.18,113.20 L293.68,113.20 L294.18,113.20 L294.68,113.20 L295.18,113.20 L295.68,113.20 L296.18,113.20 L296.68,113.20 L297.18,113.20 L297.68,113.20 L298.18,113.20 L298.68,113.20 L299.18,113.20 L299.68,113.20 L300.18,113.20 L300.68,113.20 L301.18,113.20 L301.68,113.20 L302.18,113.20 L302.68,113.20 L303.18,113.20 L303.68,113.20 L304.18,113.20 L304.68,113.20 L305.18,113.20 L305.68,113.20 L306.18,113.20 L306.68,113.20 L307.18,113.20 L307.68,113.20 L308.18,113.20 L308.68,113.20 L309.18,113.20 L309.67,113.20 L310.17,113.20 L310.67,113.20 L311.17,113.20 L311.67,113.20 L312.17,113.20 L312.67,113.20 L313.17,113.20 L313.67,113.20 L314.17,113.20 L314.67,113.20 L315.17,113.20 L315.67,113.20 L316.17,113.20 L316.67,113.20 L317.17,113.20 L317.67,113.20 L318.17,113.20 L318.67,113.20 L319.17,113.20 L319.67,113.20 L320.17,113.20 L320.67,113.20 L321.17,113.20 L321.67,113.20 L322.17,113.20 L322.67,113.20 L323.17,113.20 L323.67,113.20 L324.17,113.20 L324.67,113.20 L325.17,113.20 L325.67,113.20 L326.17,113.20 L326.67,113.20 L327.17,113.20 L327.66,113.20 L328.16,113.20 L328.66,113.20 L329.16,113.20 L329.66,113.20 L330.16,113.20 L330.66,113.20 L331.16,113.20 L331.66,113.20 L332.16,113.20 L332.66,113.20 L333.16,113.20 L333.66,113.20 L334.16,113.20 L334.66,113.20 L335.16,113.20 L335.66,113.20 L336.16,113.20 L336.66,112.55 L337.16,111.85 L337.66,111.15 L338.16,110.44 L338.66,109.74 L339.16,109.04 L339.66,107.03 L340.16,104.91 L340.66,102.78 L341.16,100.66 L341.66,98.53 L342.16,96.41 L342.66,93.10 L343.16,89.68 L343.66,86.26 L344.16,82.85 L344.66,79.43 L345.16,76.01 L345.65,72.49 L346.15,68.97 L346.65,65.45 L347.15,61.92 L347.65,58.40 L348.15,54.87 L348.65,53.15 L349.15,51.61 L349.65,50.07 L350.15,48.53 L350.65,46.99 L351.15,45.45 L351.65,46.52 L352.15,47.87 L352.65,49.22 L353.15,50.57 L353.65,51.92 L354.15,53.27 L354.65,56.18 L355.15,59.26 L355.65,62.34 L356.15,65.42 L356.65,68.50 L357.15,71.58 L357.65,74.59 L358.15,77.59 L358.65,80.59 L359.15,83.58 L359.65,86.58 L360.15,89.58 L360.65,91.64 L361.15,93.58 L361.65,95.52 L362.15,97.47 L362.65,99.41 L363.15,101.35 L363.64,102.44 L364.14,103.42 L364.64,104.41 L365.14,105.39 L365.64,106.38 L366.14,107.36 L366.64,107.88 L367.14,108.35 L367.64,108.81 L368.14,109.28 L368.64,109.74 L369.14,110.20 L369.64,110.46 L370.14,110.70 L370.64,110.93 L371.14,111.17 L371.64,111.40 L372.14,111.64 L372.64,111.78 L373.14,111.91 L373.64,112.03 L374.14,112.16 L374.64,112.29 L375.14,112.42 L375.64,112.49 L376.14,112.56 L376.64,112.63 L377.14,112.70 L377.64,112.77 L378.14,112.84 L378.64,112.87 L379.14,112.91 L379.64,112.94 L380.14,112.98 L380.64,113.01 L381.14,113.04 L381.63,113.06 L382.13,113.08 L382.63,113.09 L383.13,113.11 L383.63,113.12 L384.13,113.12 L384.63,112.84 L385.13,112.47 L385.63,112.36 L386.13,112.37 L386.63,112.37 L387.13,112.38 L387.63,112.38 L388.13,112.38 L388.63,112.39 L389.13,112.39 L389.63,112.39 L390.13,112.41 L390.63,112.73 L391.13,113.17 L391.63,113.30 L392.13,113.30 L392.63,113.30 L393.13,113.30 L393.63,113.30 L394.13,113.30 L394.63,113.30 L395.13,113.30 L395.63,113.30 L396.13,113.30 L396.63,113.30 L397.13,113.30 L397.63,113.30 L398.13,113.30 L398.63,113.30 L399.13,113.30 L399.62,113.30 L400.12,113.30 L400.62,113.30 L401.12,113.30 L401.62,113.30 L402.12,113.30 L402.62,113.30 L403.12,113.30 L403.62,113.30 L404.12,113.30 L404.62,113.30 L405.12,113.30 L405.62,113.30 L406.12,113.30 L406.62,113.30 L407.12,113.30 L407.62,113.30 L408.12,113.30 L408.62,113.30 L409.12,113.30 L409.62,113.30 L410.12,113.30 L410.62,113.30 L411.12,113.30 L411.62,113.30 L412.12,113.30 L412.62,113.30 L413.12,113.30 L413.62,113.30 L414.12,113.30 L414.62,113.30 L415.12,113.30 L415.62,113.30 L416.12,113.30 L416.62,113.30 L417.12,113.30 L417.61,113.30 L418.11,113.30 L418.61,113.30 L419.11,113.30 L419.61,113.30 L420.11,113.30 L420.61,113.30 L421.11,113.30 L421.61,113.30 L422.11,113.30 L422.61,113.30 L423.11,113.30 L423.61,113.30 L424.11,113.30 L424.61,113.30 L425.11,113.30 L425.61,113.30 L426.11,113.30 L426.61,113.30 L427.11,113.30 L427.61,113.30 L428.11,113.30 L428.61,113.30 L429.11,113.30 L429.61,113.30 L430.11,113.30 L430.61,113.30 L431.11,113.30 L431.61,113.30 L432.11,113.30 L432.61,113.30 L433.11,113.30 L433.61,113.30 L434.11,113.30 L434.61,113.30 L435.11,113.30 L435.60,113.30 L436.10,113.30 L436.60,113.30 L437.10,113.30 L437.60,113.30 L438.10,113.30 L438.60,113.30 L439.10,113.30 L439.60,113.30 L440.10,113.30 L440.60,113.30 L441.10,113.30 L441.60,113.30 L442.10,113.30 L442.60,113.30 L443.10,113.30 L443.60,113.30 L444.10,113.30 L444.60,113.30" fill="none" stroke="#1c1cd8" stroke-width="0.9" stroke-linejoin="round"/>
<text x="351.4" y="46.7" font-family='"Liberation Sans", sans-serif' font-size="9.6" fill="#1c1cd8" stroke="#1c1cd8" stroke-width="0.2" text-anchor="middle">1.43</text>
<rect x="263.00" y="20.40" width="189.50" height="96.70" fill="none" stroke="#3067c9" stroke-width="1.7"/>
<text x="265.10" y="33.30" font-family='"Liberation Sans", sans-serif' font-size="9.8" fill="#111" stroke="#111" stroke-width="0.12" textLength="171.29" lengthAdjust="spacingAndGlyphs">Cpd 5: L-kynurenine: + MRM CF=0.000</text>
<rect x="436.95" y="32.10" width="1.1" height="1.2" fill="#222"/>
<rect x="438.85" y="32.10" width="1.1" height="1.2" fill="#222"/>
<rect x="440.75" y="32.10" width="1.1" height="1.2" fill="#222"/>
<line x1="261.5" y1="40.00" x2="261.5" y2="113.50" stroke="#454545" stroke-width="1"/>
<line x1="257.90" y1="113.00" x2="261.5" y2="113.00" stroke="#454545" stroke-width="0.9"/>
<text x="256.30" y="115.50" font-family='"Liberation Sans", sans-serif' font-size="9.8" fill="#111" stroke="#111" stroke-width="0.2" text-anchor="end">0</text>
<line x1="257.90" y1="92.40" x2="261.5" y2="92.40" stroke="#454545" stroke-width="0.9"/>
<text x="256.30" y="94.90" font-family='"Liberation Sans", sans-serif' font-size="9.8" fill="#111" stroke="#111" stroke-width="0.2" text-anchor="end">1</text>
<line x1="257.90" y1="71.70" x2="261.5" y2="71.70" stroke="#454545" stroke-width="0.9"/>
<text x="256.30" y="74.20" font-family='"Liberation Sans", sans-serif' font-size="9.8" fill="#111" stroke="#111" stroke-width="0.2" text-anchor="end">2</text>
<line x1="257.90" y1="51.00" x2="261.5" y2="51.00" stroke="#454545" stroke-width="0.9"/>
<text x="256.30" y="53.50" font-family='"Liberation Sans", sans-serif' font-size="9.8" fill="#111" stroke="#111" stroke-width="0.2" text-anchor="end">3</text>
<text x="234.20" y="33.80" font-family='"Liberation Sans", sans-serif' font-size="9.8" fill="#111" stroke="#111" stroke-width="0.15">x10</text>
<text x="252.40" y="30.70" font-family='"Liberation Sans", sans-serif' font-size="7.4" fill="#111" stroke="#111" stroke-width="0.2">5</text>
<polygon points="334.40,212.30 334.90,212.30 335.40,212.30 335.90,212.30 336.40,212.02 336.89,211.32 337.39,210.61 337.89,209.90 338.39,209.20 338.89,208.49 339.39,207.24 339.89,205.11 340.39,202.97 340.89,200.84 341.39,198.71 341.88,196.57 342.38,193.96 342.88,190.53 343.38,187.09 343.88,183.66 344.38,180.22 344.88,176.79 345.38,173.32 345.88,169.78 346.38,166.24 346.88,162.70 347.37,159.16 347.87,155.62 348.37,152.77 348.87,151.22 349.37,149.67 349.87,148.13 350.37,146.58 350.87,145.03 351.37,144.45 351.87,145.81 352.36,147.16 352.86,148.52 353.36,149.88 353.86,151.23 354.36,153.15 354.86,156.24 355.36,159.33 355.86,162.43 356.36,165.52 356.86,168.62 357.35,171.68 357.85,174.70 358.35,177.71 358.85,180.72 359.35,183.73 359.85,186.75 360.35,189.44 360.85,191.39 361.35,193.35 361.84,195.30 362.34,197.25 362.84,199.20 363.34,200.88 363.84,201.87 364.34,202.85 364.84,203.84 365.34,204.83 365.84,205.82 366.34,206.67 366.83,207.13 367.33,207.60 367.83,208.06 368.33,208.53 368.83,208.99 369.33,209.40 369.83,209.64 370.33,209.87 370.83,210.11 371.33,210.34 371.82,210.58 372.32,210.79 372.82,210.92 373.32,211.05 373.82,211.17 374.32,211.30 374.82,211.43 375.32,211.55 375.82,211.61 376.32,211.68 376.81,211.75 377.31,211.82 377.81,211.89 378.31,211.95 378.81,211.98 379.31,212.02 379.81,212.05 380.31,212.09 380.81,212.12 381.31,212.15 381.81,212.17 382.30,212.18 382.80,212.20 383.30,212.21 383.80,212.23 384.30,212.18 384.30,212.23 334.40,212.30" fill="url(#hb)" stroke="none"/>
<line x1="334.40" y1="212.30" x2="384.30" y2="212.23" stroke="#1c1cd8" stroke-width="0.8" stroke-opacity="0.7"/>
<path d="M264.20,212.30 L264.70,212.30 L265.20,212.30 L265.70,212.30 L266.20,212.30 L266.70,212.30 L267.20,212.30 L267.70,212.30 L268.20,212.30 L268.71,212.30 L269.21,212.30 L269.71,212.30 L270.21,212.30 L270.71,212.30 L271.21,212.30 L271.71,212.30 L272.21,212.30 L272.71,212.30 L273.21,212.30 L273.71,212.30 L274.21,212.30 L274.71,212.30 L275.21,212.30 L275.71,212.30 L276.21,212.30 L276.71,212.30 L277.21,212.30 L277.72,212.30 L278.22,212.30 L278.72,212.30 L279.22,212.30 L279.72,212.30 L280.22,212.30 L280.72,212.30 L281.22,212.30 L281.72,212.30 L282.22,212.30 L282.72,212.30 L283.22,212.30 L283.72,212.30 L284.22,212.30 L284.72,212.30 L285.22,212.30 L285.72,212.30 L286.22,212.30 L286.73,212.30 L287.23,212.30 L287.73,212.30 L288.23,212.30 L288.73,212.30 L289.23,212.30 L289.73,212.30 L290.23,212.30 L290.73,212.30 L291.23,212.30 L291.73,212.30 L292.23,212.30 L292.73,212.30 L293.23,212.30 L293.73,212.30 L294.23,212.30 L294.73,212.30 L295.23,212.30 L295.74,212.30 L296.24,212.30 L296.74,212.30 L297.24,212.30 L297.74,212.30 L298.24,212.30 L298.74,212.30 L299.24,212.30 L299.74,212.30 L300.24,212.30 L300.74,212.30 L301.24,212.30 L301.74,212.30 L302.24,212.30 L302.74,212.30 L303.24,212.30 L303.74,212.30 L304.24,212.30 L304.75,212.30 L305.25,212.30 L305.75,212.30 L306.25,212.30 L306.75,212.30 L307.25,212.30 L307.75,212.30 L308.25,212.30 L308.75,212.30 L309.25,212.30 L309.75,212.30 L310.25,212.30 L310.75,212.30 L311.25,212.30 L311.75,212.30 L312.25,212.30 L312.75,212.30 L313.25,212.30 L313.76,212.30 L314.26,212.30 L314.76,212.30 L315.26,212.30 L315.76,212.30 L316.26,212.30 L316.76,212.30 L317.26,212.30 L317.76,212.30 L318.26,212.30 L318.76,212.30 L319.26,212.30 L319.76,212.30 L320.26,212.30 L320.76,212.30 L321.26,212.30 L321.76,212.30 L322.26,212.30 L322.77,212.30 L323.27,212.30 L323.77,212.30 L324.27,212.30 L324.77,212.30 L325.27,212.30 L325.77,212.30 L326.27,212.30 L326.77,212.30 L327.27,212.30 L327.77,212.30 L328.27,212.30 L328.77,212.30 L329.27,212.30 L329.77,212.30 L330.27,212.30 L330.77,212.30 L331.27,212.30 L331.78,212.30 L332.28,212.30 L332.78,212.30 L333.28,212.30 L333.78,212.30 L334.28,212.30 L334.78,212.30 L335.28,212.30 L335.78,212.30 L336.28,212.19 L336.78,211.48 L337.28,210.77 L337.78,210.06 L338.28,209.35 L338.78,208.65 L339.28,207.70 L339.78,205.56 L340.28,203.42 L340.79,201.28 L341.29,199.13 L341.79,196.99 L342.29,194.63 L342.79,191.18 L343.29,187.74 L343.79,184.29 L344.29,180.85 L344.79,177.40 L345.29,173.94 L345.79,170.39 L346.29,166.84 L346.79,163.29 L347.29,159.74 L347.79,156.19 L348.29,153.01 L348.79,151.46 L349.29,149.91 L349.80,148.35 L350.30,146.80 L350.80,145.25 L351.30,144.26 L351.80,145.62 L352.30,146.98 L352.80,148.34 L353.30,149.71 L353.80,151.07 L354.30,152.78 L354.80,155.88 L355.30,158.98 L355.80,162.09 L356.30,165.19 L356.80,168.29 L357.30,171.38 L357.80,174.40 L358.30,177.42 L358.81,180.45 L359.31,183.47 L359.81,186.49 L360.31,189.28 L360.81,191.24 L361.31,193.20 L361.81,195.15 L362.31,197.11 L362.81,199.07 L363.31,200.81 L363.81,201.81 L364.31,202.80 L364.81,203.79 L365.31,204.78 L365.81,205.77 L366.31,206.65 L366.81,207.11 L367.31,207.58 L367.82,208.05 L368.32,208.51 L368.82,208.98 L369.32,209.39 L369.82,209.63 L370.32,209.87 L370.82,210.10 L371.32,210.34 L371.82,210.58 L372.32,210.79 L372.82,210.92 L373.32,211.05 L373.82,211.17 L374.32,211.30 L374.82,211.43 L375.32,211.55 L375.82,211.62 L376.32,211.68 L376.83,211.75 L377.33,211.82 L377.83,211.89 L378.33,211.95 L378.83,211.99 L379.33,212.02 L379.83,212.05 L380.33,212.09 L380.83,212.12 L381.33,212.15 L381.83,212.17 L382.33,212.18 L382.83,212.20 L383.33,212.21 L383.83,212.23 L384.33,212.16 L384.83,211.84 L385.33,211.58 L385.84,211.56 L386.34,211.57 L386.84,211.57 L387.34,211.58 L387.84,211.58 L388.34,211.58 L388.84,211.59 L389.34,211.59 L389.84,211.59 L390.34,211.69 L390.84,212.07 L391.34,212.37 L391.84,212.40 L392.34,212.40 L392.84,212.40 L393.34,212.40 L393.84,212.40 L394.34,212.40 L394.85,212.40 L395.35,212.40 L395.85,212.40 L396.35,212.40 L396.85,212.40 L397.35,212.40 L397.85,212.40 L398.35,212.40 L398.85,212.40 L399.35,212.40 L399.85,212.40 L400.35,212.40 L400.85,212.40 L401.35,212.40 L401.85,212.40 L402.35,212.40 L402.85,212.40 L403.35,212.40 L403.86,212.40 L404.36,212.40 L404.86,212.40 L405.36,212.40 L405.86,212.40 L406.36,212.40 L406.86,212.40 L407.36,212.40 L407.86,212.40 L408.36,212.40 L408.86,212.40 L409.36,212.40 L409.86,212.40 L410.36,212.40 L410.86,212.40 L411.36,212.40 L411.86,212.40 L412.36,212.40 L412.87,212.40 L413.37,212.40 L413.87,212.40 L414.37,212.40 L414.87,212.40 L415.37,212.40 L415.87,212.40 L416.37,212.40 L416.87,212.40 L417.37,212.40 L417.87,212.40 L418.37,212.40 L418.87,212.40 L419.37,212.40 L419.87,212.40 L420.37,212.40 L420.87,212.40 L421.37,212.40 L421.88,212.40 L422.38,212.40 L422.88,212.40 L423.38,212.40 L423.88,212.40 L424.38,212.40 L424.88,212.40 L425.38,212.40 L425.88,212.40 L426.38,212.40 L426.88,212.40 L427.38,212.40 L427.88,212.40 L428.38,212.40 L428.88,212.40 L429.38,212.40 L429.88,212.40 L430.38,212.40 L430.89,212.40 L431.39,212.40 L431.89,212.40 L432.39,212.40 L432.89,212.40 L433.39,212.40 L433.89,212.40 L434.39,212.40 L434.89,212.40 L435.39,212.40 L435.89,212.40 L436.39,212.40 L436.89,212.40 L437.39,212.40 L437.89,212.40 L438.39,212.40 L438.89,212.40 L439.39,212.40 L439.90,212.40 L440.40,212.40 L440.90,212.40 L441.40,212.40 L441.90,212.40 L442.40,212.40 L442.90,212.40 L443.40,212.40 L443.90,212.40" fill="none" stroke="#1c1cd8" stroke-width="0.9" stroke-linejoin="round"/>
<text x="351.4" y="146.6" font-family='"Liberation Sans", sans-serif' font-size="9.6" fill="#1c1cd8" stroke="#1c1cd8" stroke-width="0.2" text-anchor="middle">1.43</text>
<rect x="263.00" y="119.60" width="189.50" height="96.80" fill="none" stroke="#3067c9" stroke-width="1.7"/>
<text x="265.10" y="132.50" font-family='"Liberation Sans", sans-serif' font-size="9.8" fill="#111" stroke="#111" stroke-width="0.12" textLength="171.29" lengthAdjust="spacingAndGlyphs">Cpd 5: L-kynurenine: + MRM CF=0.000</text>
<rect x="436.95" y="131.30" width="1.1" height="1.2" fill="#222"/>
<rect x="438.85" y="131.30" width="1.1" height="1.2" fill="#222"/>
<rect x="440.75" y="131.30" width="1.1" height="1.2" fill="#222"/>
<line x1="261.5" y1="139.20" x2="261.5" y2="212.80" stroke="#454545" stroke-width="1"/>
<line x1="257.90" y1="212.30" x2="261.5" y2="212.30" stroke="#454545" stroke-width="0.9"/>
<text x="256.30" y="214.80" font-family='"Liberation Sans", sans-serif' font-size="9.8" fill="#111" stroke="#111" stroke-width="0.2" text-anchor="end">0</text>
<line x1="257.90" y1="184.20" x2="261.5" y2="184.20" stroke="#454545" stroke-width="0.9"/>
<text x="256.30" y="186.70" font-family='"Liberation Sans", sans-serif' font-size="9.8" fill="#111" stroke="#111" stroke-width="0.2" text-anchor="end">1</text>
<line x1="257.90" y1="156.10" x2="261.5" y2="156.10" stroke="#454545" stroke-width="0.9"/>
<text x="256.30" y="158.60" font-family='"Liberation Sans", sans-serif' font-size="9.8" fill="#111" stroke="#111" stroke-width="0.2" text-anchor="end">2</text>
<text x="234.20" y="133.00" font-family='"Liberation Sans", sans-serif' font-size="9.8" fill="#111" stroke="#111" stroke-width="0.15">x10</text>
<text x="252.40" y="129.90" font-family='"Liberation Sans", sans-serif' font-size="7.4" fill="#111" stroke="#111" stroke-width="0.2">5</text>
<polygon points="332.50,312.00 333.00,312.00 333.50,312.00 333.99,312.00 334.49,312.00 334.99,312.00 335.49,311.99 335.99,311.99 336.48,311.30 336.98,310.59 337.48,309.89 337.98,309.18 338.48,308.47 338.97,307.76 339.47,305.69 339.97,303.55 340.47,301.41 340.96,299.27 341.46,297.13 341.96,294.99 342.46,291.65 342.96,288.21 343.45,284.77 343.95,281.33 344.45,277.89 344.95,274.45 345.45,270.91 345.94,267.36 346.44,263.81 346.94,260.26 347.44,256.71 347.94,253.16 348.43,251.35 348.93,249.80 349.43,248.24 349.93,246.69 350.43,245.13 350.92,243.57 351.42,244.48 351.92,245.83 352.42,247.18 352.92,248.53 353.41,249.88 353.91,251.23 354.41,254.01 354.91,257.09 355.41,260.18 355.90,263.27 356.40,266.36 356.90,269.45 357.40,272.47 357.89,275.48 358.39,278.49 358.89,281.49 359.39,284.50 359.89,287.51 360.38,289.69 360.88,291.64 361.38,293.58 361.88,295.53 362.38,297.47 362.87,299.42 363.37,300.64 363.87,301.63 364.37,302.61 364.87,303.59 365.36,304.57 365.86,305.56 366.36,306.16 366.86,306.62 367.36,307.08 367.85,307.54 368.35,308.00 368.85,308.46 369.35,308.76 369.85,308.99 370.34,309.22 370.84,309.45 371.34,309.69 371.84,309.92 372.34,310.08 372.83,310.20 373.33,310.33 373.83,310.45 374.33,310.58 374.82,310.70 375.32,310.79 375.82,310.85 376.32,310.92 376.82,310.99 377.31,311.05 377.81,311.12 378.31,311.17 378.81,311.20 379.31,311.23 379.80,311.27 380.30,311.30 380.80,311.33 380.80,311.50 332.50,312.00" fill="url(#hr)" stroke="none"/>
<line x1="332.50" y1="312.00" x2="380.80" y2="311.50" stroke="#ff1a1a" stroke-width="0.8" stroke-opacity="0.7"/>
<path d="M269.00,312.00 L269.50,312.00 L270.00,312.00 L270.50,312.00 L271.00,312.00 L271.50,312.00 L272.00,312.00 L272.50,312.00 L273.00,312.00 L273.49,312.00 L273.99,312.00 L274.49,312.00 L274.99,312.00 L275.49,312.00 L275.99,312.00 L276.49,312.00 L276.99,312.00 L277.49,312.00 L277.99,312.00 L278.49,312.00 L278.99,312.00 L279.49,312.00 L279.99,312.00 L280.49,312.00 L280.99,312.00 L281.48,312.00 L281.98,312.00 L282.48,312.00 L282.98,312.00 L283.48,312.00 L283.98,312.00 L284.48,312.00 L284.98,312.00 L285.48,312.00 L285.98,312.00 L286.48,312.00 L286.98,312.00 L287.48,312.00 L287.98,312.00 L288.48,312.00 L288.98,312.00 L289.48,312.00 L289.97,312.00 L290.47,312.00 L290.97,312.00 L291.47,312.00 L291.97,312.00 L292.47,312.00 L292.97,312.00 L293.47,312.00 L293.97,312.00 L294.47,312.00 L294.97,312.00 L295.47,312.00 L295.97,312.00 L296.47,312.00 L296.97,312.00 L297.47,312.00 L297.96,312.00 L298.46,312.00 L298.96,312.00 L299.46,312.00 L299.96,312.00 L300.46,312.00 L300.96,312.00 L301.46,312.00 L301.96,312.00 L302.46,312.00 L302.96,312.00 L303.46,312.00 L303.96,312.00 L304.46,312.00 L304.96,312.00 L305.46,312.00 L305.95,312.00 L306.45,312.00 L306.95,312.00 L307.45,312.00 L307.95,312.00 L308.45,312.00 L308.95,312.00 L309.45,312.00 L309.95,312.00 L310.45,312.00 L310.95,312.00 L311.45,312.00 L311.95,312.00 L312.45,312.00 L312.95,312.00 L313.45,312.00 L313.95,312.00 L314.44,312.00 L314.94,312.00 L315.44,312.00 L315.94,312.00 L316.44,312.00 L316.94,312.00 L317.44,312.00 L317.94,312.00 L318.44,312.00 L318.94,312.00 L319.44,312.00 L319.94,312.00 L320.44,312.00 L320.94,312.00 L321.44,312.00 L321.94,312.00 L322.43,312.00 L322.93,312.00 L323.43,312.00 L323.93,312.00 L324.43,312.00 L324.93,312.00 L325.43,312.00 L325.93,312.00 L326.43,312.00 L326.93,312.00 L327.43,312.00 L327.93,312.00 L328.43,312.00 L328.93,312.00 L329.43,312.00 L329.93,312.00 L330.43,312.00 L330.92,312.00 L331.42,312.00 L331.92,312.00 L332.42,312.00 L332.92,312.00 L333.42,312.00 L333.92,312.00 L334.42,312.00 L334.92,312.00 L335.42,311.99 L335.92,311.99 L336.42,311.40 L336.92,310.69 L337.42,309.98 L337.92,309.26 L338.42,308.55 L338.91,307.84 L339.41,305.94 L339.91,303.79 L340.41,301.65 L340.91,299.50 L341.41,297.35 L341.91,295.21 L342.41,291.99 L342.91,288.54 L343.41,285.09 L343.91,281.63 L344.41,278.18 L344.91,274.73 L345.41,271.19 L345.91,267.63 L346.41,264.07 L346.90,260.51 L347.40,256.95 L347.90,253.39 L348.40,251.45 L348.90,249.89 L349.40,248.33 L349.90,246.77 L350.40,245.21 L350.90,243.65 L351.40,244.42 L351.90,245.77 L352.40,247.13 L352.90,248.48 L353.40,249.83 L353.90,251.19 L354.40,253.92 L354.90,257.02 L355.39,260.12 L355.89,263.21 L356.39,266.31 L356.89,269.41 L357.39,272.44 L357.89,275.46 L358.39,278.47 L358.89,281.49 L359.39,284.50 L359.89,287.52 L360.39,289.71 L360.89,291.66 L361.39,293.61 L361.89,295.56 L362.39,297.51 L362.89,299.46 L363.38,300.67 L363.88,301.65 L364.38,302.64 L364.88,303.62 L365.38,304.61 L365.88,305.60 L366.38,306.18 L366.88,306.64 L367.38,307.10 L367.88,307.56 L368.38,308.03 L368.88,308.49 L369.38,308.78 L369.88,309.01 L370.38,309.24 L370.88,309.47 L371.38,309.70 L371.87,309.93 L372.37,310.09 L372.87,310.21 L373.37,310.34 L373.87,310.46 L374.37,310.59 L374.87,310.71 L375.37,310.79 L375.87,310.86 L376.37,310.93 L376.87,310.99 L377.37,311.06 L377.87,311.13 L378.37,311.17 L378.87,311.20 L379.37,311.24 L379.86,311.27 L380.36,311.30 L380.86,311.34 L381.36,311.36 L381.86,311.37 L382.36,311.39 L382.86,311.40 L383.36,311.42 L383.86,311.43 L384.36,311.44 L384.86,311.45 L385.36,311.45 L385.86,311.46 L386.36,311.46 L386.86,311.47 L387.36,311.47 L387.85,311.47 L388.35,311.47 L388.85,311.47 L389.35,311.48 L389.85,311.48 L390.35,311.48 L390.85,311.47 L391.35,311.47 L391.85,311.47 L392.35,311.47 L392.85,311.47 L393.35,311.47 L393.85,311.47 L394.35,311.46 L394.85,311.46 L395.35,311.46 L395.85,311.46 L396.34,311.45 L396.84,311.45 L397.34,311.45 L397.84,311.44 L398.34,311.44 L398.84,311.44 L399.34,311.44 L399.84,311.43 L400.34,311.43 L400.84,311.43 L401.34,311.42 L401.84,311.42 L402.34,311.42 L402.84,311.41 L403.34,311.41 L403.84,311.41 L404.33,311.40 L404.83,311.40 L405.33,311.40 L405.83,311.39 L406.33,311.39 L406.83,311.39 L407.33,311.38 L407.83,311.38 L408.33,311.38 L408.83,311.38 L409.33,311.37 L409.83,311.37 L410.33,311.37 L410.83,311.36 L411.33,311.36 L411.83,311.36 L412.33,311.35 L412.82,311.35 L413.32,311.35 L413.82,311.35 L414.32,311.34 L414.82,311.34 L415.32,311.34 L415.82,311.33 L416.32,311.33 L416.82,311.33 L417.32,311.33 L417.82,311.33 L418.32,311.32 L418.82,311.32 L419.32,311.32 L419.82,311.32 L420.32,311.32 L420.81,311.31 L421.31,311.31 L421.81,311.31 L422.31,311.31 L422.81,311.31 L423.31,311.31 L423.81,311.31 L424.31,311.30 L424.81,311.30 L425.31,311.30 L425.81,311.30 L426.31,311.30 L426.81,311.30 L427.31,311.30 L427.81,311.30 L428.31,311.30 L428.80,311.30 L429.30,311.37 L429.80,311.69 L430.30,311.97 L430.80,311.93 L431.30,311.61 L431.80,311.33 L432.30,311.21 L432.80,311.00" fill="none" stroke="#ff1a1a" stroke-width="0.9" stroke-linejoin="round"/>
<text x="351.4" y="245.5" font-family='"Liberation Sans", sans-serif' font-size="9.6" fill="#ff1a1a" stroke="#ff1a1a" stroke-width="0.08" text-anchor="middle">1.43</text>
<rect x="263.00" y="219.10" width="189.50" height="96.70" fill="none" stroke="#3067c9" stroke-width="1.7"/>
<text x="265.10" y="232.00" font-family='"Liberation Sans", sans-serif' font-size="9.8" fill="#111" stroke="#111" stroke-width="0.12" textLength="175.39" lengthAdjust="spacingAndGlyphs">Cpd 6: [13C6]-kynurenine: + MRM CF=0</text>
<rect x="441.05" y="230.80" width="1.1" height="1.2" fill="#222"/>
<rect x="443.25" y="230.80" width="1.1" height="1.2" fill="#222"/>
<rect x="445.45" y="230.80" width="1.1" height="1.2" fill="#222"/>
<rect x="447.75" y="230.80" width="1.1" height="1.2" fill="#222"/>
<line x1="261.5" y1="238.70" x2="261.5" y2="312.80" stroke="#454545" stroke-width="1"/>
<line x1="257.90" y1="312.30" x2="261.5" y2="312.30" stroke="#454545" stroke-width="0.9"/>
<text x="256.30" y="314.80" font-family='"Liberation Sans", sans-serif' font-size="9.8" fill="#111" stroke="#111" stroke-width="0.2" text-anchor="end">0</text>
<line x1="257.90" y1="294.30" x2="261.5" y2="294.30" stroke="#454545" stroke-width="0.9"/>
<text x="256.30" y="296.80" font-family='"Liberation Sans", sans-serif' font-size="9.8" fill="#111" stroke="#111" stroke-width="0.2" text-anchor="end">0.5</text>
<line x1="257.90" y1="276.40" x2="261.5" y2="276.40" stroke="#454545" stroke-width="0.9"/>
<text x="256.30" y="278.90" font-family='"Liberation Sans", sans-serif' font-size="9.8" fill="#111" stroke="#111" stroke-width="0.2" text-anchor="end">1</text>
<line x1="257.90" y1="258.40" x2="261.5" y2="258.40" stroke="#454545" stroke-width="0.9"/>
<text x="256.30" y="260.90" font-family='"Liberation Sans", sans-serif' font-size="9.8" fill="#111" stroke="#111" stroke-width="0.2" text-anchor="end">1.5</text>
<line x1="257.90" y1="240.40" x2="261.5" y2="240.40" stroke="#454545" stroke-width="0.9"/>
<text x="256.30" y="242.90" font-family='"Liberation Sans", sans-serif' font-size="9.8" fill="#111" stroke="#111" stroke-width="0.2" text-anchor="end">2</text>
<text x="234.20" y="232.50" font-family='"Liberation Sans", sans-serif' font-size="9.8" fill="#111" stroke="#111" stroke-width="0.15">x10</text>
<text x="252.40" y="229.40" font-family='"Liberation Sans", sans-serif' font-size="7.4" fill="#111" stroke="#111" stroke-width="0.2">4</text>
<polygon points="333.00,411.10 333.50,411.10 334.00,411.10 334.50,411.10 335.00,411.10 335.50,410.96 335.99,410.25 336.49,409.55 336.99,408.85 337.49,408.14 337.99,407.43 338.49,406.47 338.99,404.35 339.49,402.22 339.99,400.09 340.49,397.97 340.99,395.84 341.48,393.50 341.98,390.08 342.48,386.66 342.98,383.24 343.48,379.82 343.98,376.40 344.48,372.96 344.98,369.43 345.48,365.91 345.98,362.38 346.47,358.85 346.97,355.32 347.47,352.08 347.97,350.53 348.47,348.98 348.97,347.43 349.47,345.88 349.97,344.33 350.47,343.16 350.97,344.49 351.47,345.82 351.96,347.15 352.46,348.48 352.96,349.81 353.46,351.35 353.96,354.40 354.46,357.46 354.96,360.51 355.46,363.56 355.96,366.62 356.46,369.66 356.96,372.63 357.45,375.60 357.95,378.58 358.45,381.55 358.95,384.52 359.45,387.38 359.95,389.30 360.45,391.22 360.95,393.14 361.45,395.06 361.95,396.97 362.44,398.81 362.94,399.77 363.44,400.73 363.94,401.69 364.44,402.66 364.94,403.62 365.44,404.54 365.94,404.99 366.44,405.43 366.94,405.88 367.44,406.32 367.93,406.77 368.43,407.20 368.93,407.42 369.43,407.63 369.93,407.85 370.43,408.07 370.93,408.29 371.43,408.50 371.93,408.62 372.43,408.73 372.93,408.84 373.42,408.96 373.92,409.07 374.42,409.19 374.92,409.24 375.42,409.30 375.92,409.36 376.42,409.41 376.92,409.47 377.42,409.53 377.92,409.55 378.41,409.58 378.91,409.60 379.41,409.63 379.91,409.66 380.41,409.69 380.91,409.69 381.41,409.70 381.91,409.71 382.41,409.73 382.91,409.74 383.41,409.75 383.90,409.75 384.40,409.76 384.90,409.76 385.40,409.77 385.90,409.77 386.40,409.78 386.40,409.80 333.00,411.10" fill="url(#hr)" stroke="none"/>
<line x1="333.00" y1="411.10" x2="386.40" y2="409.80" stroke="#ff1a1a" stroke-width="0.8" stroke-opacity="0.7"/>
<path d="M269.00,411.10 L269.50,411.10 L270.00,411.10 L270.50,411.10 L271.00,411.10 L271.50,411.10 L272.00,411.10 L272.50,411.10 L273.00,411.10 L273.50,411.10 L274.00,411.10 L274.50,411.10 L275.00,411.10 L275.50,411.10 L276.00,411.10 L276.50,411.10 L277.00,411.10 L277.50,411.10 L278.00,411.10 L278.50,411.10 L279.00,411.10 L279.50,411.10 L280.00,411.10 L280.50,411.10 L281.00,411.10 L281.50,411.10 L282.00,411.10 L282.50,411.10 L283.00,411.10 L283.50,411.10 L284.00,411.10 L284.50,411.10 L285.00,411.10 L285.50,411.10 L286.00,411.10 L286.50,411.10 L287.00,411.10 L287.50,411.10 L288.00,411.10 L288.50,411.10 L289.00,411.10 L289.50,411.10 L290.00,411.10 L290.50,411.10 L291.00,411.10 L291.50,411.10 L292.00,411.10 L292.50,411.10 L293.00,411.10 L293.50,411.10 L294.00,411.10 L294.50,411.10 L295.00,411.10 L295.50,411.10 L296.00,411.10 L296.50,411.10 L297.00,411.10 L297.50,411.10 L298.00,411.10 L298.50,411.10 L299.00,411.10 L299.50,411.10 L300.00,411.10 L300.50,411.10 L301.00,411.10 L301.50,411.10 L302.00,411.10 L302.50,411.10 L303.00,411.10 L303.50,411.10 L304.00,411.10 L304.50,411.10 L305.00,411.10 L305.50,411.10 L306.00,411.10 L306.50,411.10 L307.00,411.10 L307.50,411.10 L308.00,411.10 L308.50,411.10 L309.00,411.10 L309.50,411.10 L310.00,411.10 L310.50,411.10 L311.00,411.10 L311.50,411.10 L312.00,411.10 L312.50,411.10 L313.00,411.10 L313.50,411.10 L314.00,411.10 L314.50,411.10 L315.00,411.10 L315.50,411.10 L316.00,411.10 L316.50,411.10 L317.00,411.10 L317.50,411.10 L318.00,411.10 L318.50,411.10 L319.00,411.10 L319.50,411.10 L320.00,411.10 L320.50,411.10 L321.00,411.10 L321.50,411.10 L322.00,411.10 L322.50,411.10 L323.00,411.10 L323.50,411.10 L324.00,411.10 L324.50,411.10 L325.00,411.10 L325.50,411.10 L326.00,411.10 L326.50,411.10 L327.00,411.10 L327.50,411.10 L328.00,411.10 L328.50,411.10 L329.00,411.10 L329.50,411.10 L330.00,411.10 L330.50,411.10 L331.00,411.10 L331.50,411.10 L332.00,411.10 L332.50,411.10 L333.00,411.10 L333.50,411.10 L334.00,411.10 L334.50,411.10 L335.00,411.10 L335.50,410.95 L336.00,410.25 L336.50,409.54 L337.00,408.83 L337.50,408.13 L338.00,407.42 L338.50,406.43 L339.00,404.30 L339.50,402.17 L340.00,400.04 L340.50,397.91 L341.00,395.78 L341.50,393.39 L342.00,389.96 L342.50,386.54 L343.00,383.11 L343.50,379.68 L344.00,376.26 L344.50,372.81 L345.00,369.27 L345.50,365.74 L346.00,362.21 L346.50,358.67 L347.00,355.14 L347.50,352.00 L348.00,350.44 L348.50,348.89 L349.00,347.34 L349.50,345.78 L350.00,344.23 L350.50,343.25 L351.00,344.58 L351.50,345.91 L352.00,347.25 L352.50,348.58 L353.00,349.91 L353.50,351.59 L354.00,354.64 L354.50,357.70 L355.00,360.76 L355.50,363.82 L356.00,366.88 L356.50,369.92 L357.00,372.90 L357.50,375.88 L358.00,378.85 L358.50,381.83 L359.00,384.81 L359.50,387.57 L360.00,389.50 L360.50,391.42 L361.00,393.34 L361.50,395.26 L362.00,397.18 L362.50,398.91 L363.00,399.88 L363.50,400.84 L364.00,401.81 L364.50,402.77 L365.00,403.74 L365.50,404.60 L366.00,405.04 L366.50,405.49 L367.00,405.93 L367.50,406.38 L368.00,406.83 L368.50,407.23 L369.00,407.44 L369.50,407.66 L370.00,407.88 L370.50,408.10 L371.00,408.32 L371.50,408.52 L372.00,408.63 L372.50,408.75 L373.00,408.86 L373.50,408.98 L374.00,409.09 L374.50,409.19 L375.00,409.25 L375.50,409.31 L376.00,409.36 L376.50,409.42 L377.00,409.48 L377.50,409.53 L378.00,409.56 L378.50,409.58 L379.00,409.61 L379.50,409.64 L380.00,409.66 L380.50,409.69 L381.00,409.70 L381.50,409.71 L382.00,409.72 L382.50,409.73 L383.00,409.74 L383.50,409.75 L384.00,409.75 L384.50,409.76 L385.00,409.76 L385.50,409.77 L386.00,409.77 L386.50,409.78 L387.00,409.78 L387.50,409.78 L388.00,409.79 L388.50,409.79 L389.00,409.79 L389.50,409.79 L390.00,409.79 L390.50,409.79 L391.00,409.80 L391.50,409.80 L392.00,409.80 L392.50,409.80 L393.00,409.80 L393.50,409.80 L394.00,409.80 L394.50,409.80 L395.00,409.80 L395.50,409.80 L396.00,409.80 L396.50,409.80 L397.00,409.80 L397.50,409.80 L398.00,409.80 L398.50,409.80 L399.00,409.80 L399.50,409.80 L400.00,409.80 L400.50,409.80 L401.00,409.80 L401.50,409.80 L402.00,409.80 L402.50,409.80 L403.00,409.80 L403.50,409.80 L404.00,409.80 L404.50,409.80 L405.00,409.80 L405.50,409.80 L406.00,409.80 L406.50,409.80 L407.00,409.80 L407.50,409.80 L408.00,409.80 L408.50,410.40 L409.00,411.00 L409.50,411.00 L410.00,411.00 L410.50,411.00 L411.00,411.00 L411.50,411.00 L412.00,411.00 L412.50,411.00 L413.00,411.00 L413.50,411.00 L414.00,411.00 L414.50,411.00 L415.00,411.00 L415.50,411.00 L416.00,411.00 L416.50,411.00 L417.00,411.00 L417.50,411.00 L418.00,411.00 L418.50,411.00 L419.00,411.00 L419.50,411.00 L420.00,411.00 L420.50,411.00 L421.00,411.00 L421.50,411.00 L422.00,411.00 L422.50,411.00 L423.00,411.00 L423.50,411.00 L424.00,411.00 L424.50,411.00 L425.00,411.00 L425.50,411.00 L426.00,411.00 L426.50,411.00 L427.00,411.00 L427.50,411.00 L428.00,411.00 L428.50,411.00 L429.00,411.00 L429.50,411.00 L430.00,411.00 L430.50,410.88 L431.00,410.60 L431.50,410.32 L432.00,410.20" fill="none" stroke="#ff1a1a" stroke-width="0.9" stroke-linejoin="round"/>
<text x="351.4" y="345.1" font-family='"Liberation Sans", sans-serif' font-size="9.6" fill="#ff1a1a" stroke="#ff1a1a" stroke-width="0.08" text-anchor="middle">1.42</text>
<rect x="263.00" y="318.40" width="189.50" height="97.00" fill="none" stroke="#3067c9" stroke-width="1.7"/>
<text x="265.10" y="331.30" font-family='"Liberation Sans", sans-serif' font-size="9.8" fill="#111" stroke="#111" stroke-width="0.12" textLength="175.39" lengthAdjust="spacingAndGlyphs">Cpd 6: [13C6]-kynurenine: + MRM CF=0</text>
<rect x="441.05" y="330.10" width="1.1" height="1.2" fill="#222"/>
<rect x="443.25" y="330.10" width="1.1" height="1.2" fill="#222"/>
<rect x="445.45" y="330.10" width="1.1" height="1.2" fill="#222"/>
<rect x="447.75" y="330.10" width="1.1" height="1.2" fill="#222"/>
<line x1="261.5" y1="338.00" x2="261.5" y2="411.90" stroke="#454545" stroke-width="1"/>
<line x1="257.90" y1="411.40" x2="261.5" y2="411.40" stroke="#454545" stroke-width="0.9"/>
<text x="256.30" y="413.90" font-family='"Liberation Sans", sans-serif' font-size="9.8" fill="#111" stroke="#111" stroke-width="0.2" text-anchor="end">0</text>
<line x1="257.90" y1="387.00" x2="261.5" y2="387.00" stroke="#454545" stroke-width="0.9"/>
<text x="256.30" y="389.50" font-family='"Liberation Sans", sans-serif' font-size="9.8" fill="#111" stroke="#111" stroke-width="0.2" text-anchor="end">0.5</text>
<line x1="257.90" y1="362.70" x2="261.5" y2="362.70" stroke="#454545" stroke-width="0.9"/>
<text x="256.30" y="365.20" font-family='"Liberation Sans", sans-serif' font-size="9.8" fill="#111" stroke="#111" stroke-width="0.2" text-anchor="end">1</text>
<line x1="257.90" y1="338.40" x2="261.5" y2="338.40" stroke="#454545" stroke-width="0.9"/>
<text x="256.30" y="340.90" font-family='"Liberation Sans", sans-serif' font-size="9.8" fill="#111" stroke="#111" stroke-width="0.2" text-anchor="end">1.5</text>
<text x="234.20" y="331.80" font-family='"Liberation Sans", sans-serif' font-size="9.8" fill="#111" stroke="#111" stroke-width="0.15">x10</text>
<text x="252.40" y="328.70" font-family='"Liberation Sans", sans-serif' font-size="7.4" fill="#111" stroke="#111" stroke-width="0.2">4</text>
<polygon points="580.00,103.60 580.50,102.02 581.01,100.44 581.51,98.78 582.02,93.54 582.52,88.29 583.02,83.05 583.53,77.80 584.03,72.56 584.53,67.41 585.04,63.63 585.54,59.85 586.05,56.07 586.55,52.29 587.05,48.51 587.56,45.44 588.06,47.91 588.56,50.38 589.07,52.86 589.57,55.33 590.08,57.80 590.58,60.48 591.08,64.30 591.59,68.12 592.09,71.94 592.59,75.75 593.10,79.57 593.60,83.04 594.11,85.11 594.61,87.18 595.11,89.25 595.62,91.32 596.12,93.40 596.62,95.21 597.13,96.24 597.63,97.26 598.14,98.29 598.64,99.31 599.14,100.34 599.65,101.24 600.15,101.85 600.65,102.46 601.16,103.07 601.66,103.68 602.17,104.29 602.67,104.81 603.17,105.14 603.68,105.47 604.18,105.81 604.68,106.14 605.19,106.48 605.69,106.74 606.20,106.90 606.70,107.05 606.70,108.10 580.00,108.30" fill="url(#hr)" stroke="none"/>
<line x1="580.00" y1="108.30" x2="606.70" y2="108.10" stroke="#ff1a1a" stroke-width="0.8" stroke-opacity="0.7"/>
<path d="M532.00,109.40 L532.50,109.52 L533.00,109.80 L533.50,110.08 L534.00,110.20 L534.50,110.10 L535.00,109.82 L535.50,109.39 L536.00,108.87 L536.50,108.32 L537.00,107.81 L537.50,107.41 L538.00,107.16 L538.51,107.10 L539.01,107.22 L539.51,107.49 L540.01,107.87 L540.51,108.30 L541.01,108.73 L541.51,109.08 L542.01,109.32 L542.51,109.40 L543.01,109.36 L543.51,109.24 L544.01,109.07 L544.51,108.87 L545.01,108.66 L545.51,108.48 L546.01,108.35 L546.51,108.30 L547.01,108.30 L547.51,108.32 L548.01,108.34 L548.51,108.36 L549.01,108.38 L549.51,108.39 L550.01,108.40 L550.52,108.42 L551.02,108.49 L551.52,108.59 L552.02,108.70 L552.52,108.77 L553.02,108.80 L553.52,108.94 L554.02,109.30 L554.52,109.71 L555.02,110.02 L555.52,110.09 L556.02,109.97 L556.52,109.72 L557.02,109.46 L557.52,109.31 L558.02,109.30 L558.52,109.30 L559.02,109.30 L559.52,109.30 L560.02,109.30 L560.52,109.30 L561.02,109.30 L561.52,109.30 L562.02,109.30 L562.52,109.30 L563.03,109.30 L563.53,109.30 L564.03,109.30 L564.53,109.30 L565.03,109.30 L565.53,109.30 L566.03,109.30 L566.53,109.30 L567.03,109.30 L567.53,109.30 L568.03,109.30 L568.53,109.30 L569.03,109.30 L569.53,109.31 L570.03,109.46 L570.53,109.74 L571.03,110.03 L571.53,110.19 L572.03,110.16 L572.53,109.96 L573.03,109.63 L573.53,109.23 L574.03,108.85 L574.53,108.56 L575.04,108.41 L575.54,108.40 L576.04,108.39 L576.54,108.38 L577.04,108.36 L577.54,108.34 L578.04,108.32 L578.54,108.19 L579.04,106.61 L579.54,105.05 L580.04,103.48 L580.54,101.91 L581.04,100.34 L581.54,98.48 L582.04,93.27 L582.54,88.06 L583.04,82.85 L583.54,77.64 L584.04,72.43 L584.54,67.34 L585.04,63.59 L585.54,59.84 L586.04,56.08 L586.54,52.33 L587.04,48.57 L587.55,45.38 L588.05,47.84 L588.55,50.29 L589.05,52.75 L589.55,55.21 L590.05,57.66 L590.55,60.25 L591.05,64.04 L591.55,67.83 L592.05,71.62 L592.55,75.41 L593.05,79.20 L593.55,82.82 L594.05,84.88 L594.55,86.94 L595.05,89.00 L595.55,91.06 L596.05,93.11 L596.55,95.06 L597.05,96.08 L597.55,97.10 L598.05,98.12 L598.55,99.14 L599.05,100.16 L599.56,101.13 L600.06,101.74 L600.56,102.34 L601.06,102.95 L601.56,103.55 L602.06,104.16 L602.56,104.73 L603.06,105.06 L603.56,105.39 L604.06,105.73 L604.56,106.06 L605.06,106.39 L605.56,106.70 L606.06,106.85 L606.56,107.01 L607.06,107.14 L607.56,107.21 L608.06,107.23 L608.56,107.22 L609.06,107.13 L609.56,107.08 L610.06,107.08 L610.56,107.18 L611.06,107.40 L611.56,107.73 L612.07,108.09 L612.57,108.47 L613.07,108.81 L613.57,109.08 L614.07,109.23 L614.57,109.26 L615.07,109.26 L615.57,109.25 L616.07,109.24 L616.57,109.23 L617.07,109.21 L617.57,109.18 L618.07,109.15 L618.57,109.12 L619.07,109.09 L619.57,109.05 L620.07,109.02 L620.57,108.99 L621.07,108.97 L621.57,108.94 L622.07,108.93 L622.57,108.91 L623.07,108.90 L623.57,108.90 L624.08,109.01 L624.58,109.30 L625.08,109.55 L625.58,109.60 L626.08,109.59 L626.58,109.58 L627.08,109.57 L627.58,109.55 L628.08,109.54 L628.58,109.52 L629.08,109.51 L629.58,109.50 L630.08,109.50 L630.58,109.37 L631.08,109.10 L631.58,108.74 L632.08,108.40 L632.58,108.17 L633.08,108.10 L633.58,108.18 L634.08,108.36 L634.58,108.61 L635.08,108.90 L635.58,109.18 L636.08,109.41 L636.59,109.56 L637.09,109.60 L637.59,109.53 L638.09,109.35 L638.59,109.09 L639.09,108.76 L639.59,108.40 L640.09,108.03 L640.59,107.69 L641.09,107.41 L641.59,107.21 L642.09,107.11 L642.59,107.13 L643.09,107.31 L643.59,107.64 L644.09,108.06 L644.59,108.52 L645.09,108.95 L645.59,109.28 L646.09,109.47 L646.59,109.50 L647.09,109.50 L647.59,109.50 L648.09,109.50 L648.60,109.50 L649.10,109.50 L649.60,109.50 L650.10,109.47 L650.60,109.21 L651.10,108.75 L651.60,108.32 L652.10,108.11 L652.60,108.24 L653.10,108.75 L653.60,109.42 L654.10,109.98 L654.60,110.20" fill="none" stroke="#ff1a1a" stroke-width="0.9" stroke-linejoin="round"/>
<text x="587.3" y="46.0" font-family='"Liberation Sans", sans-serif' font-size="9.6" fill="#ff1a1a" stroke="#ff1a1a" stroke-width="0.08" text-anchor="middle">3.37</text>
<rect x="508.60" y="19.50" width="175.60" height="96.70" fill="none" stroke="#3067c9" stroke-width="1.7"/>
<text x="511.19" y="32.40" font-family='"Liberation Sans", sans-serif' font-size="9.8" fill="#111" stroke="#111" stroke-width="0.12" textLength="161.14" lengthAdjust="spacingAndGlyphs">Cpd 12: [2H5]-kynureic acid: + MRM</text>
<rect x="671.95" y="31.20" width="1.1" height="1.2" fill="#222"/>
<rect x="673.25" y="31.20" width="1.1" height="1.2" fill="#222"/>
<rect x="674.45" y="31.20" width="1.1" height="1.2" fill="#222"/>
<line x1="506.5" y1="39.10" x2="506.5" y2="113.00" stroke="#454545" stroke-width="1"/>
<line x1="502.90" y1="112.50" x2="506.5" y2="112.50" stroke="#454545" stroke-width="0.9"/>
<text x="501.30" y="115.00" font-family='"Liberation Sans", sans-serif' font-size="9.8" fill="#111" stroke="#111" stroke-width="0.2" text-anchor="end">0</text>
<line x1="502.90" y1="91.40" x2="506.5" y2="91.40" stroke="#454545" stroke-width="0.9"/>
<text x="501.30" y="93.90" font-family='"Liberation Sans", sans-serif' font-size="9.8" fill="#111" stroke="#111" stroke-width="0.2" text-anchor="end">0.5</text>
<line x1="502.90" y1="70.20" x2="506.5" y2="70.20" stroke="#454545" stroke-width="0.9"/>
<text x="501.30" y="72.70" font-family='"Liberation Sans", sans-serif' font-size="9.8" fill="#111" stroke="#111" stroke-width="0.2" text-anchor="end">1</text>
<line x1="502.90" y1="48.50" x2="506.5" y2="48.50" stroke="#454545" stroke-width="0.9"/>
<text x="501.30" y="51.00" font-family='"Liberation Sans", sans-serif' font-size="9.8" fill="#111" stroke="#111" stroke-width="0.2" text-anchor="end">1.5</text>
<text x="479.20" y="32.90" font-family='"Liberation Sans", sans-serif' font-size="9.8" fill="#111" stroke="#111" stroke-width="0.15">x10</text>
<text x="497.40" y="29.80" font-family='"Liberation Sans", sans-serif' font-size="7.4" fill="#111" stroke="#111" stroke-width="0.2">3</text>
<polygon points="579.50,203.75 580.00,202.21 580.51,200.67 581.01,199.13 581.51,197.59 582.01,193.82 582.52,188.71 583.02,183.59 583.52,178.48 584.03,173.37 584.53,168.26 585.03,164.10 585.54,160.42 586.04,156.74 586.54,153.07 587.04,149.39 587.55,145.72 588.05,146.29 588.55,148.72 589.06,151.15 589.56,153.58 590.06,156.01 590.56,158.45 591.07,161.84 591.57,165.59 592.07,169.33 592.58,173.08 593.08,176.83 593.58,180.57 594.09,183.02 594.59,185.06 595.09,187.11 595.59,189.15 596.10,191.19 596.60,193.24 597.10,194.46 597.61,195.49 598.11,196.51 598.61,197.53 599.11,198.55 599.62,199.57 600.12,200.25 600.62,200.87 601.13,201.48 601.63,202.09 602.13,202.71 602.64,203.32 603.14,203.69 603.64,204.03 604.14,204.38 604.65,204.72 605.15,205.05 605.65,205.39 606.16,205.57 606.66,205.73 607.16,205.89 607.66,206.05 608.17,206.21 608.67,206.37 609.17,206.43 609.68,206.50 610.18,206.56 610.68,206.62 611.19,206.68 611.69,206.75 612.19,206.77 612.69,206.79 613.20,206.81 613.70,206.83 613.70,206.90 579.50,206.20" fill="url(#hr)" stroke="none"/>
<line x1="579.50" y1="206.20" x2="613.70" y2="206.90" stroke="#ff1a1a" stroke-width="0.8" stroke-opacity="0.7"/>
<path d="M532.00,206.40 L532.50,206.36 L533.00,206.23 L533.50,206.02 L534.00,205.75 L534.50,205.44 L535.00,205.09 L535.50,204.74 L536.00,204.39 L536.50,204.08 L537.00,203.83 L537.50,203.64 L538.00,203.53 L538.51,203.50 L539.01,203.54 L539.51,203.65 L540.01,203.79 L540.51,203.98 L541.01,204.18 L541.51,204.39 L542.01,204.58 L542.51,204.73 L543.01,204.84 L543.51,204.90 L544.01,204.95 L544.51,205.20 L545.01,205.64 L545.51,206.17 L546.01,206.68 L546.51,207.08 L547.01,207.28 L547.51,207.29 L548.01,207.25 L548.51,207.18 L549.01,207.08 L549.51,206.96 L550.01,206.82 L550.52,206.69 L551.02,206.56 L551.52,206.45 L552.02,206.37 L552.52,206.32 L553.02,206.30 L553.52,206.31 L554.02,206.33 L554.52,206.37 L555.02,206.41 L555.52,206.47 L556.02,206.54 L556.52,206.60 L557.02,206.67 L557.52,206.73 L558.02,206.79 L558.52,206.84 L559.02,206.87 L559.52,206.89 L560.02,206.90 L560.52,206.89 L561.02,206.87 L561.52,206.84 L562.02,206.80 L562.52,206.76 L563.03,206.73 L563.53,206.71 L564.03,206.70 L564.53,206.65 L565.03,206.52 L565.53,206.32 L566.03,206.09 L566.53,205.85 L567.03,205.63 L567.53,205.48 L568.03,205.41 L568.53,205.40 L569.03,205.41 L569.53,205.41 L570.03,205.43 L570.53,205.44 L571.03,205.46 L571.53,205.47 L572.03,205.48 L572.53,205.49 L573.03,205.50 L573.53,205.50 L574.03,205.57 L574.53,205.73 L575.04,205.94 L575.54,206.14 L576.04,206.27 L576.54,206.30 L577.04,206.29 L577.54,206.27 L578.04,206.24 L578.54,206.22 L579.04,205.17 L579.54,203.63 L580.04,202.10 L580.54,200.57 L581.04,199.04 L581.54,197.51 L582.04,193.55 L582.54,188.47 L583.04,183.38 L583.54,178.29 L584.04,173.21 L584.54,168.12 L585.04,164.02 L585.54,160.36 L586.04,156.70 L586.54,153.04 L587.04,149.38 L587.55,145.73 L588.05,146.27 L588.55,148.69 L589.05,151.11 L589.55,153.53 L590.05,155.94 L590.55,158.36 L591.05,161.69 L591.55,165.42 L592.05,169.15 L592.55,172.88 L593.05,176.61 L593.55,180.33 L594.05,182.88 L594.55,184.91 L595.05,186.94 L595.55,188.98 L596.05,191.01 L596.55,193.05 L597.05,194.36 L597.55,195.38 L598.05,196.40 L598.55,197.41 L599.05,198.43 L599.56,199.44 L600.06,200.17 L600.56,200.78 L601.06,201.39 L601.56,202.00 L602.06,202.61 L602.56,203.22 L603.06,203.64 L603.56,203.98 L604.06,204.32 L604.56,204.66 L605.06,204.99 L605.56,205.33 L606.06,205.54 L606.56,205.70 L607.06,205.86 L607.56,206.02 L608.06,206.17 L608.56,206.33 L609.06,206.42 L609.56,206.48 L610.06,206.55 L610.56,206.61 L611.06,206.67 L611.56,206.73 L612.07,206.76 L612.57,206.78 L613.07,206.80 L613.57,206.82 L614.07,206.84 L614.57,206.86 L615.07,206.88 L615.57,206.89 L616.07,206.91 L616.57,206.92 L617.07,206.94 L617.57,206.96 L618.07,206.97 L618.57,206.98 L619.07,206.99 L619.57,206.99 L620.07,207.00 L620.57,206.93 L621.07,206.77 L621.57,206.57 L622.07,206.37 L622.57,206.24 L623.07,206.20 L623.57,206.28 L624.08,206.46 L624.58,206.69 L625.08,206.91 L625.58,207.06 L626.08,207.10 L626.58,207.03 L627.08,206.87 L627.58,206.67 L628.08,206.47 L628.58,206.34 L629.08,206.30 L629.58,206.37 L630.08,206.53 L630.58,206.73 L631.08,206.93 L631.58,207.06 L632.08,207.10 L632.58,207.06 L633.08,206.96 L633.58,206.83 L634.08,206.67 L634.58,206.52 L635.08,206.40 L635.58,206.32 L636.08,206.30 L636.59,206.37 L637.09,206.53 L637.59,206.74 L638.09,206.93 L638.59,207.06 L639.09,207.10 L639.59,207.10 L640.09,207.10 L640.59,207.10 L641.09,207.10 L641.59,207.10 L642.09,207.10 L642.59,207.10 L643.09,207.10 L643.59,207.10 L644.09,207.10 L644.59,207.10 L645.09,207.10 L645.59,207.10 L646.09,207.10 L646.59,207.10 L647.09,207.10 L647.59,207.10 L648.09,207.10 L648.60,207.18 L649.10,207.34 L649.60,207.53 L650.10,207.66 L650.60,207.70 L651.10,207.65 L651.60,207.55 L652.10,207.40 L652.60,207.23 L653.10,207.07 L653.60,206.93 L654.10,206.83 L654.60,206.80" fill="none" stroke="#ff1a1a" stroke-width="0.9" stroke-linejoin="round"/>
<text x="588.0" y="145.8" font-family='"Liberation Sans", sans-serif' font-size="9.6" fill="#ff1a1a" stroke="#ff1a1a" stroke-width="0.08" text-anchor="middle">3.37</text>
<rect x="508.60" y="118.70" width="175.60" height="96.80" fill="none" stroke="#3067c9" stroke-width="1.7"/>
<text x="511.19" y="131.60" font-family='"Liberation Sans", sans-serif' font-size="9.8" fill="#111" stroke="#111" stroke-width="0.12" textLength="161.14" lengthAdjust="spacingAndGlyphs">Cpd 12: [2H5]-kynureic acid: + MRM</text>
<rect x="671.95" y="130.40" width="1.1" height="1.2" fill="#222"/>
<rect x="673.25" y="130.40" width="1.1" height="1.2" fill="#222"/>
<rect x="674.45" y="130.40" width="1.1" height="1.2" fill="#222"/>
<line x1="506.5" y1="138.30" x2="506.5" y2="211.90" stroke="#454545" stroke-width="1"/>
<line x1="502.90" y1="211.40" x2="506.5" y2="211.40" stroke="#454545" stroke-width="0.9"/>
<text x="501.30" y="213.90" font-family='"Liberation Sans", sans-serif' font-size="9.8" fill="#111" stroke="#111" stroke-width="0.2" text-anchor="end">0</text>
<line x1="502.90" y1="184.90" x2="506.5" y2="184.90" stroke="#454545" stroke-width="0.9"/>
<text x="501.30" y="187.40" font-family='"Liberation Sans", sans-serif' font-size="9.8" fill="#111" stroke="#111" stroke-width="0.2" text-anchor="end">2</text>
<line x1="502.90" y1="158.30" x2="506.5" y2="158.30" stroke="#454545" stroke-width="0.9"/>
<text x="501.30" y="160.80" font-family='"Liberation Sans", sans-serif' font-size="9.8" fill="#111" stroke="#111" stroke-width="0.2" text-anchor="end">4</text>
<text x="479.20" y="132.10" font-family='"Liberation Sans", sans-serif' font-size="9.8" fill="#111" stroke="#111" stroke-width="0.15">x10</text>
<text x="497.40" y="129.00" font-family='"Liberation Sans", sans-serif' font-size="7.4" fill="#111" stroke="#111" stroke-width="0.2">3</text>
<polygon points="582.70,308.13 583.20,308.01 583.69,305.96 584.19,303.40 584.69,300.84 585.18,298.28 585.68,295.72 586.18,293.15 586.67,288.75 587.17,283.74 587.67,278.72 588.16,273.70 588.66,268.68 589.16,263.66 589.65,260.05 590.15,257.02 590.65,253.98 591.14,250.95 591.64,247.91 592.14,244.87 592.63,245.47 593.13,247.86 593.63,250.26 594.12,252.65 594.62,255.05 595.12,257.44 595.61,260.63 596.11,264.29 596.61,267.95 597.10,271.61 597.60,275.27 598.09,278.93 598.59,281.58 599.09,283.51 599.58,285.44 600.08,287.37 600.58,289.30 601.07,291.23 601.57,292.63 602.07,293.60 602.56,294.56 603.06,295.53 603.56,296.50 604.05,297.47 604.55,298.17 605.05,298.61 605.54,299.04 606.04,299.48 606.54,299.92 607.03,300.36 607.53,300.77 608.03,301.16 608.52,301.54 609.02,301.93 609.52,302.31 610.01,302.70 610.51,303.15 611.01,303.66 611.50,304.18 612.00,304.69 612.00,307.40 582.70,308.70" fill="url(#hb)" stroke="none"/>
<line x1="582.70" y1="308.70" x2="612.00" y2="307.40" stroke="#1c1cd8" stroke-width="0.8" stroke-opacity="0.7"/>
<path d="M532.00,308.70 L532.50,308.67 L533.00,308.59 L533.50,308.46 L534.00,308.29 L534.50,308.11 L535.00,307.92 L535.50,307.74 L536.00,307.58 L536.50,307.47 L537.00,307.41 L537.50,307.41 L538.00,307.50 L538.51,307.66 L539.01,307.85 L539.51,308.01 L540.01,308.09 L540.51,308.11 L541.01,308.19 L541.51,308.31 L542.01,308.47 L542.51,308.62 L543.01,308.73 L543.51,308.79 L544.01,308.80 L544.51,308.80 L545.01,308.80 L545.51,308.80 L546.01,308.79 L546.51,308.79 L547.01,308.79 L547.51,308.78 L548.01,308.78 L548.51,308.77 L549.01,308.77 L549.51,308.76 L550.01,308.76 L550.51,308.75 L551.01,308.75 L551.52,308.74 L552.02,308.74 L552.52,308.73 L553.02,308.73 L553.52,308.72 L554.02,308.72 L554.52,308.71 L555.02,308.71 L555.52,308.71 L556.02,308.70 L556.52,308.70 L557.02,308.70 L557.52,308.70 L558.02,308.66 L558.52,308.47 L559.02,308.21 L559.52,307.98 L560.02,307.90 L560.52,307.93 L561.02,308.00 L561.52,308.11 L562.02,308.25 L562.52,308.40 L563.02,308.55 L563.52,308.67 L564.02,308.75 L564.53,308.80 L565.03,308.79 L565.53,308.71 L566.03,308.56 L566.53,308.37 L567.03,308.13 L567.53,307.86 L568.03,307.58 L568.53,307.30 L569.03,307.05 L569.53,306.83 L570.03,306.66 L570.53,306.54 L571.03,306.50 L571.53,306.53 L572.03,306.64 L572.53,306.82 L573.03,307.06 L573.53,307.33 L574.03,307.61 L574.53,307.88 L575.03,308.10 L575.53,308.28 L576.03,308.38 L576.53,308.40 L577.03,308.41 L577.54,308.43 L578.04,308.46 L578.54,308.49 L579.04,308.53 L579.54,308.57 L580.04,308.61 L580.54,308.59 L581.04,308.50 L581.54,308.40 L582.04,308.29 L582.54,308.17 L583.04,308.04 L583.54,306.75 L584.04,304.17 L584.54,301.59 L585.04,299.01 L585.54,296.43 L586.04,293.85 L586.54,290.07 L587.04,285.02 L587.54,279.96 L588.04,274.91 L588.54,269.85 L589.04,264.79 L589.54,260.71 L590.04,257.66 L590.55,254.60 L591.05,251.54 L591.55,248.48 L592.05,245.42 L592.55,245.06 L593.05,247.47 L593.55,249.88 L594.05,252.30 L594.55,254.71 L595.05,257.12 L595.55,260.17 L596.05,263.86 L596.55,267.54 L597.05,271.23 L597.55,274.92 L598.05,278.61 L598.55,281.42 L599.05,283.37 L599.55,285.31 L600.05,287.25 L600.55,289.20 L601.05,291.14 L601.55,292.60 L602.05,293.57 L602.55,294.54 L603.05,295.52 L603.56,296.50 L604.06,297.47 L604.56,298.18 L605.06,298.61 L605.56,299.05 L606.06,299.49 L606.56,299.94 L607.06,300.38 L607.56,300.79 L608.06,301.18 L608.56,301.57 L609.06,301.96 L609.56,302.35 L610.06,302.74 L610.56,303.20 L611.06,303.72 L611.56,304.24 L612.06,304.76 L612.56,305.32 L613.06,305.91 L613.56,306.30 L614.06,306.47 L614.56,306.51 L615.06,306.43 L615.56,306.37 L616.06,306.45 L616.57,306.66 L617.07,306.93 L617.57,307.19 L618.07,307.30 L618.57,307.25 L619.07,307.08 L619.57,306.91 L620.07,306.86 L620.57,306.96 L621.07,307.12 L621.57,307.28 L622.07,307.34 L622.57,307.35 L623.07,307.36 L623.57,307.36 L624.07,307.37 L624.57,307.38 L625.07,307.38 L625.57,307.39 L626.07,307.39 L626.57,307.39 L627.07,307.39 L627.57,307.39 L628.07,307.40 L628.57,307.40 L629.07,307.40 L629.58,307.40 L630.08,307.40 L630.58,307.40 L631.08,307.40 L631.58,307.40 L632.08,307.40 L632.58,307.40 L633.08,307.40 L633.58,307.40 L634.08,307.40 L634.58,307.40 L635.08,307.40 L635.58,307.40 L636.08,307.40 L636.58,307.40 L637.08,307.40 L637.58,307.40 L638.08,307.40 L638.58,307.40 L639.08,307.40 L639.58,307.40 L640.08,307.40 L640.58,307.40 L641.08,307.40 L641.58,307.40 L642.08,307.40 L642.59,307.40 L643.09,307.40 L643.59,307.40 L644.09,307.40 L644.59,307.40 L645.09,307.40 L645.59,307.50 L646.09,307.68 L646.59,307.85 L647.09,307.90 L647.59,307.80 L648.09,307.61 L648.59,307.45 L649.09,307.40 L649.59,307.40 L650.09,307.40 L650.59,307.40 L651.09,307.40 L651.59,307.40 L652.09,307.40 L652.59,307.40 L653.09,307.40 L653.59,307.40 L654.09,307.40 L654.59,307.40 L655.09,307.40 L655.60,307.40 L656.10,307.40 L656.60,307.40 L657.10,307.40 L657.60,307.40 L658.10,307.40 L658.60,307.40 L659.10,307.40 L659.60,307.40 L660.10,307.40 L660.60,307.40 L661.10,307.40 L661.60,307.40" fill="none" stroke="#1c1cd8" stroke-width="0.9" stroke-linejoin="round"/>
<text x="591.7" y="244.8" font-family='"Liberation Sans", sans-serif' font-size="9.6" fill="#1c1cd8" stroke="#1c1cd8" stroke-width="0.2" text-anchor="middle">3.40</text>
<rect x="508.60" y="218.20" width="175.60" height="96.70" fill="none" stroke="#3067c9" stroke-width="1.7"/>
<text x="511.19" y="231.10" font-family='"Liberation Sans", sans-serif' font-size="9.8" fill="#111" stroke="#111" stroke-width="0.12" textLength="162.30" lengthAdjust="spacingAndGlyphs">Cpd 13: Kynurenic acid: + MRM CF=</text>
<rect x="673.05" y="229.90" width="1.1" height="1.2" fill="#222"/>
<rect x="674.35" y="229.90" width="1.1" height="1.2" fill="#222"/>
<rect x="675.45" y="229.90" width="1.1" height="1.2" fill="#222"/>
<line x1="506.5" y1="237.80" x2="506.5" y2="311.60" stroke="#454545" stroke-width="1"/>
<line x1="502.90" y1="311.10" x2="506.5" y2="311.10" stroke="#454545" stroke-width="0.9"/>
<text x="501.30" y="313.60" font-family='"Liberation Sans", sans-serif' font-size="9.8" fill="#111" stroke="#111" stroke-width="0.2" text-anchor="end">0</text>
<line x1="502.90" y1="281.50" x2="506.5" y2="281.50" stroke="#454545" stroke-width="0.9"/>
<text x="501.30" y="284.00" font-family='"Liberation Sans", sans-serif' font-size="9.8" fill="#111" stroke="#111" stroke-width="0.2" text-anchor="end">0.5</text>
<line x1="502.90" y1="251.50" x2="506.5" y2="251.50" stroke="#454545" stroke-width="0.9"/>
<text x="501.30" y="254.00" font-family='"Liberation Sans", sans-serif' font-size="9.8" fill="#111" stroke="#111" stroke-width="0.2" text-anchor="end">1</text>
<text x="479.20" y="231.60" font-family='"Liberation Sans", sans-serif' font-size="9.8" fill="#111" stroke="#111" stroke-width="0.15">x10</text>
<text x="497.40" y="228.50" font-family='"Liberation Sans", sans-serif' font-size="7.4" fill="#111" stroke="#111" stroke-width="0.2">3</text>
<polygon points="582.70,407.56 583.20,406.45 583.70,403.88 584.20,401.30 584.70,398.72 585.20,396.13 585.70,393.55 586.20,389.98 586.70,384.92 587.20,379.87 587.70,374.81 588.20,369.75 588.70,364.69 589.20,360.43 589.70,357.37 590.20,354.31 590.70,351.25 591.20,348.19 591.70,345.13 592.20,344.26 592.70,346.68 593.20,349.09 593.70,351.51 594.20,353.92 594.70,356.33 595.20,359.26 595.70,362.95 596.20,366.64 596.70,370.34 597.20,374.03 597.70,377.72 598.20,380.71 598.70,382.65 599.20,384.60 599.70,386.54 600.20,388.49 600.70,390.43 601.20,391.99 601.70,392.98 602.20,393.96 602.70,394.95 603.20,395.93 603.70,396.92 604.20,397.78 604.70,398.44 605.20,399.10 605.70,399.77 606.20,400.43 606.70,401.10 607.20,401.68 607.70,402.11 608.20,402.54 608.70,402.97 609.20,403.40 609.70,403.84 610.20,404.20 610.70,404.44 611.20,404.69 611.70,404.93 612.20,405.18 612.70,405.43 613.20,405.63 613.70,405.75 613.70,406.80 582.70,408.20" fill="url(#hb)" stroke="none"/>
<line x1="582.70" y1="408.20" x2="613.70" y2="406.80" stroke="#1c1cd8" stroke-width="0.8" stroke-opacity="0.7"/>
<path d="M532.00,408.20 L532.50,408.18 L533.00,408.14 L533.50,408.06 L534.00,407.97 L534.50,407.86 L535.00,407.74 L535.50,407.62 L536.00,407.51 L536.50,407.42 L537.00,407.35 L537.50,407.31 L538.00,407.30 L538.51,407.29 L539.01,407.26 L539.51,407.22 L540.01,407.17 L540.51,407.12 L541.01,407.07 L541.51,407.03 L542.01,407.01 L542.51,407.00 L543.01,407.13 L543.51,407.45 L544.01,407.84 L544.51,408.12 L545.01,408.20 L545.51,408.18 L546.01,408.15 L546.51,408.09 L547.01,408.01 L547.51,407.92 L548.01,407.83 L548.51,407.73 L549.01,407.63 L549.51,407.53 L550.01,407.45 L550.51,407.38 L551.01,407.34 L551.52,407.31 L552.02,407.30 L552.52,407.38 L553.02,407.56 L553.52,407.78 L554.02,407.99 L554.52,408.15 L555.02,408.20 L555.52,408.20 L556.02,408.21 L556.52,408.22 L557.02,408.24 L557.52,408.26 L558.02,408.29 L558.52,408.32 L559.02,408.35 L559.52,408.38 L560.02,408.42 L560.52,408.46 L561.02,408.49 L561.52,408.53 L562.02,408.56 L562.52,408.59 L563.02,408.62 L563.52,408.64 L564.02,408.66 L564.53,408.68 L565.03,408.69 L565.53,408.70 L566.03,408.71 L566.53,408.88 L567.03,409.15 L567.53,409.30 L568.03,409.26 L568.53,409.13 L569.03,408.91 L569.53,408.63 L570.03,408.30 L570.53,407.96 L571.03,407.64 L571.53,407.36 L572.03,407.15 L572.53,407.03 L573.03,407.00 L573.53,407.09 L574.03,407.28 L574.53,407.54 L575.03,407.80 L575.53,408.03 L576.03,408.17 L576.53,408.20 L577.03,408.20 L577.54,408.20 L578.04,408.20 L578.54,408.20 L579.04,408.20 L579.54,408.20 L580.04,408.19 L580.54,408.07 L581.04,407.95 L581.54,407.83 L582.04,407.71 L582.54,407.59 L583.04,407.28 L583.54,404.70 L584.04,402.12 L584.54,399.54 L585.04,396.96 L585.54,394.37 L586.04,391.58 L586.54,386.52 L587.04,381.46 L587.54,376.40 L588.04,371.34 L588.54,366.27 L589.04,361.38 L589.54,358.32 L590.04,355.26 L590.55,352.20 L591.05,349.14 L591.55,346.07 L592.05,343.52 L592.55,345.93 L593.05,348.35 L593.55,350.77 L594.05,353.19 L594.55,355.60 L595.05,358.14 L595.55,361.84 L596.05,365.53 L596.55,369.23 L597.05,372.92 L597.55,376.61 L598.05,380.13 L598.55,382.08 L599.05,384.02 L599.55,385.97 L600.05,387.91 L600.55,389.86 L601.05,391.70 L601.55,392.69 L602.05,393.67 L602.55,394.66 L603.05,395.65 L603.56,396.63 L604.06,397.59 L604.56,398.25 L605.06,398.91 L605.56,399.58 L606.06,400.24 L606.56,400.91 L607.06,401.55 L607.56,401.98 L608.06,402.41 L608.56,402.85 L609.06,403.28 L609.56,403.72 L610.06,404.13 L610.56,404.37 L611.06,404.62 L611.56,404.86 L612.06,405.11 L612.56,405.36 L613.06,405.60 L613.56,405.72 L614.06,405.88 L614.56,406.17 L615.06,406.45 L615.56,406.61 L616.06,406.73 L616.57,406.78 L617.07,406.83 L617.57,406.88 L618.07,406.94 L618.57,406.99 L619.07,407.04 L619.57,407.06 L620.07,407.07 L620.57,407.09 L621.07,407.11 L621.57,407.13 L622.07,407.15 L622.57,407.09 L623.07,406.95 L623.57,406.73 L624.07,406.49 L624.57,406.25 L625.07,406.05 L625.57,405.92 L626.07,405.89 L626.57,405.92 L627.07,405.98 L627.57,406.06 L628.07,406.16 L628.57,406.26 L629.07,406.33 L629.58,406.38 L630.08,406.40 L630.58,406.43 L631.08,406.50 L631.58,406.60 L632.08,406.73 L632.58,406.86 L633.08,406.99 L633.58,407.09 L634.08,407.17 L634.58,407.20 L635.08,407.20 L635.58,407.20 L636.08,407.20 L636.58,407.20 L637.08,407.20 L637.58,407.20 L638.08,407.20 L638.58,407.20 L639.08,407.20 L639.58,407.20 L640.08,407.20 L640.58,407.20 L641.08,407.20 L641.58,407.20 L642.08,407.20 L642.59,407.20 L643.09,407.20 L643.59,407.20 L644.09,407.20 L644.59,407.20 L645.09,407.20 L645.59,407.20 L646.09,407.20 L646.59,407.20 L647.09,407.20 L647.59,407.20 L648.09,407.20 L648.59,407.20 L649.09,407.28 L649.59,407.56 L650.09,407.95 L650.59,408.27 L651.09,408.40 L651.59,408.32 L652.09,408.11 L652.59,407.82 L653.09,407.54 L653.59,407.35 L654.09,407.30 L654.59,407.25 L655.09,407.15 L655.60,407.00 L656.10,406.83 L656.60,406.67 L657.10,406.53 L657.60,406.43 L658.10,406.40 L658.60,406.45 L659.10,406.59 L659.60,406.79 L660.10,407.01 L660.60,407.21 L661.10,407.35 L661.60,407.40" fill="none" stroke="#1c1cd8" stroke-width="0.9" stroke-linejoin="round"/>
<text x="591.7" y="344.1" font-family='"Liberation Sans", sans-serif' font-size="9.6" fill="#1c1cd8" stroke="#1c1cd8" stroke-width="0.2" text-anchor="middle">3.40</text>
<rect x="508.60" y="317.50" width="175.60" height="97.00" fill="none" stroke="#3067c9" stroke-width="1.7"/>
<text x="511.19" y="330.40" font-family='"Liberation Sans", sans-serif' font-size="9.8" fill="#111" stroke="#111" stroke-width="0.12" textLength="162.30" lengthAdjust="spacingAndGlyphs">Cpd 13: Kynurenic acid: + MRM CF=</text>
<rect x="673.05" y="329.20" width="1.1" height="1.2" fill="#222"/>
<rect x="674.35" y="329.20" width="1.1" height="1.2" fill="#222"/>
<rect x="675.45" y="329.20" width="1.1" height="1.2" fill="#222"/>
<line x1="506.5" y1="337.10" x2="506.5" y2="410.50" stroke="#454545" stroke-width="1"/>
<line x1="502.90" y1="410.00" x2="506.5" y2="410.00" stroke="#454545" stroke-width="0.9"/>
<text x="501.30" y="412.50" font-family='"Liberation Sans", sans-serif' font-size="9.8" fill="#111" stroke="#111" stroke-width="0.2" text-anchor="end">0</text>
<line x1="502.90" y1="388.90" x2="506.5" y2="388.90" stroke="#454545" stroke-width="0.9"/>
<text x="501.30" y="391.40" font-family='"Liberation Sans", sans-serif' font-size="9.8" fill="#111" stroke="#111" stroke-width="0.2" text-anchor="end">1</text>
<line x1="502.90" y1="367.70" x2="506.5" y2="367.70" stroke="#454545" stroke-width="0.9"/>
<text x="501.30" y="370.20" font-family='"Liberation Sans", sans-serif' font-size="9.8" fill="#111" stroke="#111" stroke-width="0.2" text-anchor="end">2</text>
<line x1="502.90" y1="345.40" x2="506.5" y2="345.40" stroke="#454545" stroke-width="0.9"/>
<text x="501.30" y="347.90" font-family='"Liberation Sans", sans-serif' font-size="9.8" fill="#111" stroke="#111" stroke-width="0.2" text-anchor="end">3</text>
<text x="479.20" y="330.90" font-family='"Liberation Sans", sans-serif' font-size="9.8" fill="#111" stroke="#111" stroke-width="0.15">x10</text>
<text x="497.40" y="327.80" font-family='"Liberation Sans", sans-serif' font-size="7.4" fill="#111" stroke="#111" stroke-width="0.2">3</text>
<line x1="29.40" y1="416.0" x2="217.2" y2="416.0" stroke="#454545" stroke-width="1"/>
<line x1="58.30" y1="416.0" x2="58.30" y2="419.2" stroke="#454545" stroke-width="0.9"/>
<text x="58.30" y="427.10" font-family='"Liberation Sans", sans-serif' font-size="9.8" fill="#111" stroke="#111" stroke-width="0.2" text-anchor="middle">2.4</text>
<line x1="87.60" y1="416.0" x2="87.60" y2="419.2" stroke="#454545" stroke-width="0.9"/>
<text x="87.60" y="427.10" font-family='"Liberation Sans", sans-serif' font-size="9.8" fill="#111" stroke="#111" stroke-width="0.2" text-anchor="middle">2.6</text>
<line x1="116.90" y1="416.0" x2="116.90" y2="419.2" stroke="#454545" stroke-width="0.9"/>
<text x="116.90" y="427.10" font-family='"Liberation Sans", sans-serif' font-size="9.8" fill="#111" stroke="#111" stroke-width="0.2" text-anchor="middle">2.8</text>
<line x1="146.20" y1="416.0" x2="146.20" y2="419.2" stroke="#454545" stroke-width="0.9"/>
<text x="146.20" y="427.10" font-family='"Liberation Sans", sans-serif' font-size="9.8" fill="#111" stroke="#111" stroke-width="0.2" text-anchor="middle">3</text>
<line x1="175.50" y1="416.0" x2="175.50" y2="419.2" stroke="#454545" stroke-width="0.9"/>
<text x="175.50" y="427.10" font-family='"Liberation Sans", sans-serif' font-size="9.8" fill="#111" stroke="#111" stroke-width="0.2" text-anchor="middle">3.2</text>
<line x1="204.80" y1="416.0" x2="204.80" y2="419.2" stroke="#454545" stroke-width="0.9"/>
<text x="204.80" y="427.10" font-family='"Liberation Sans", sans-serif' font-size="9.8" fill="#111" stroke="#111" stroke-width="0.2" text-anchor="middle">3.4</text>
<text x="123.40" y="438.80" font-family='"Liberation Sans", sans-serif' font-size="9.7" fill="#111" stroke="#111" stroke-width="0.2" text-anchor="middle" textLength="144" lengthAdjust="spacingAndGlyphs">Counts vs. Acquisition Time (min)</text>
<line x1="263.00" y1="417.0" x2="451.5" y2="417.0" stroke="#454545" stroke-width="1"/>
<line x1="288.40" y1="417.0" x2="288.40" y2="420.2" stroke="#454545" stroke-width="0.9"/>
<text x="288.40" y="428.10" font-family='"Liberation Sans", sans-serif' font-size="9.8" fill="#111" stroke="#111" stroke-width="0.2" text-anchor="middle">1</text>
<line x1="317.60" y1="417.0" x2="317.60" y2="420.2" stroke="#454545" stroke-width="0.9"/>
<text x="317.60" y="428.10" font-family='"Liberation Sans", sans-serif' font-size="9.8" fill="#111" stroke="#111" stroke-width="0.2" text-anchor="middle">1.2</text>
<line x1="346.80" y1="417.0" x2="346.80" y2="420.2" stroke="#454545" stroke-width="0.9"/>
<text x="346.80" y="428.10" font-family='"Liberation Sans", sans-serif' font-size="9.8" fill="#111" stroke="#111" stroke-width="0.2" text-anchor="middle">1.4</text>
<line x1="376.00" y1="417.0" x2="376.00" y2="420.2" stroke="#454545" stroke-width="0.9"/>
<text x="376.00" y="428.10" font-family='"Liberation Sans", sans-serif' font-size="9.8" fill="#111" stroke="#111" stroke-width="0.2" text-anchor="middle">1.6</text>
<line x1="405.20" y1="417.0" x2="405.20" y2="420.2" stroke="#454545" stroke-width="0.9"/>
<text x="405.20" y="428.10" font-family='"Liberation Sans", sans-serif' font-size="9.8" fill="#111" stroke="#111" stroke-width="0.2" text-anchor="middle">1.8</text>
<line x1="434.40" y1="417.0" x2="434.40" y2="420.2" stroke="#454545" stroke-width="0.9"/>
<text x="434.40" y="428.10" font-family='"Liberation Sans", sans-serif' font-size="9.8" fill="#111" stroke="#111" stroke-width="0.2" text-anchor="middle">2</text>
<text x="357.00" y="439.80" font-family='"Liberation Sans", sans-serif' font-size="9.7" fill="#111" stroke="#111" stroke-width="0.2" text-anchor="middle" textLength="144" lengthAdjust="spacingAndGlyphs">Counts vs. Acquisition Time (min)</text>
<line x1="508.60" y1="416.0" x2="684" y2="416.0" stroke="#454545" stroke-width="1"/>
<line x1="510.46" y1="416.0" x2="510.46" y2="419.2" stroke="#454545" stroke-width="0.9"/>
<line x1="537.50" y1="416.0" x2="537.50" y2="419.2" stroke="#454545" stroke-width="0.9"/>
<text x="537.50" y="427.10" font-family='"Liberation Sans", sans-serif' font-size="9.8" fill="#111" stroke="#111" stroke-width="0.2" text-anchor="middle">3</text>
<line x1="564.54" y1="416.0" x2="564.54" y2="419.2" stroke="#454545" stroke-width="0.9"/>
<text x="564.54" y="427.10" font-family='"Liberation Sans", sans-serif' font-size="9.8" fill="#111" stroke="#111" stroke-width="0.2" text-anchor="middle">3.2</text>
<line x1="591.58" y1="416.0" x2="591.58" y2="419.2" stroke="#454545" stroke-width="0.9"/>
<text x="591.58" y="427.10" font-family='"Liberation Sans", sans-serif' font-size="9.8" fill="#111" stroke="#111" stroke-width="0.2" text-anchor="middle">3.4</text>
<line x1="618.62" y1="416.0" x2="618.62" y2="419.2" stroke="#454545" stroke-width="0.9"/>
<text x="618.62" y="427.10" font-family='"Liberation Sans", sans-serif' font-size="9.8" fill="#111" stroke="#111" stroke-width="0.2" text-anchor="middle">3.6</text>
<line x1="645.66" y1="416.0" x2="645.66" y2="419.2" stroke="#454545" stroke-width="0.9"/>
<text x="645.66" y="427.10" font-family='"Liberation Sans", sans-serif' font-size="9.8" fill="#111" stroke="#111" stroke-width="0.2" text-anchor="middle">3.8</text>
<line x1="672.70" y1="416.0" x2="672.70" y2="419.2" stroke="#454545" stroke-width="0.9"/>
<text x="672.70" y="427.10" font-family='"Liberation Sans", sans-serif' font-size="9.8" fill="#111" stroke="#111" stroke-width="0.2" text-anchor="middle">4</text>
<text x="596.30" y="438.80" font-family='"Liberation Sans", sans-serif' font-size="9.7" fill="#111" stroke="#111" stroke-width="0.2" text-anchor="middle" textLength="144" lengthAdjust="spacingAndGlyphs">Counts vs. Acquisition Time (min)</text>
</svg></body></html>
